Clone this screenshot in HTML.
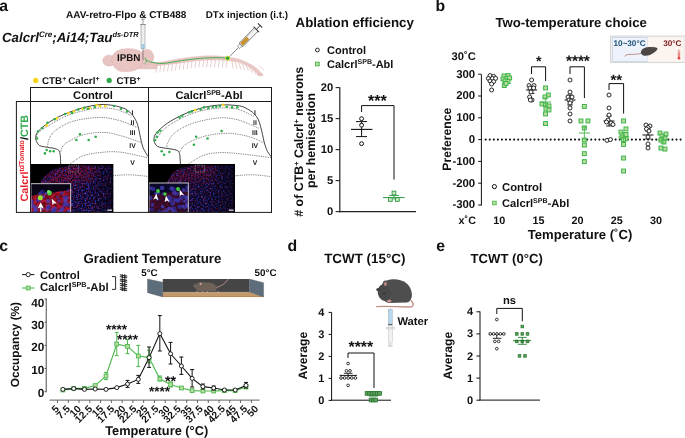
<!DOCTYPE html>
<html><head><meta charset="utf-8"><style>
html,body{margin:0;padding:0;background:#fff;width:685px;height:438px;overflow:hidden}
svg{display:block;will-change:transform}
text{font-family:"Liberation Sans",sans-serif;text-rendering:geometricPrecision}
</style></head><body>
<svg width="685" height="438" viewBox="0 0 685 438" font-family="Liberation Sans, sans-serif">
<rect width="685" height="438" fill="#fff"/>
<text x="-0.8" y="11.2" font-size="15.8" font-weight="bold" text-anchor="start" fill="#111" >a</text>
<text x="66" y="18" font-size="10" font-weight="bold" text-anchor="start" fill="#111" >AAV-retro-Flpo &amp; CTB488</text>
<text x="205.8" y="18" font-size="9.8" font-weight="bold" text-anchor="start" fill="#111" >DTx injection (i.t.)</text>
<text x="2" y="42" font-size="13.3" font-weight="bold" font-style="italic" fill="#111">Calcrl<tspan font-size="8" dy="-5">Cre</tspan><tspan dy="5">;Ai14;Tau</tspan><tspan font-size="7.4" dy="-5">ds-DTR</tspan></text>
<g>
<line x1="157.0" y1="65.2" x2="155.9" y2="72.6" stroke="#e0b8b6" stroke-width="0.7"/>
<line x1="160.9" y1="64.8" x2="159.8" y2="72.2" stroke="#e0b8b6" stroke-width="0.7"/>
<line x1="164.8" y1="64.3" x2="163.7" y2="71.7" stroke="#e0b8b6" stroke-width="0.7"/>
<line x1="168.7" y1="63.9" x2="167.6" y2="71.3" stroke="#e0b8b6" stroke-width="0.7"/>
<line x1="172.6" y1="63.5" x2="171.5" y2="70.9" stroke="#e0b8b6" stroke-width="0.7"/>
<line x1="176.5" y1="63.0" x2="175.4" y2="70.4" stroke="#e0b8b6" stroke-width="0.7"/>
<line x1="180.4" y1="62.4" x2="179.3" y2="69.8" stroke="#e0b8b6" stroke-width="0.7"/>
<line x1="184.3" y1="61.9" x2="183.2" y2="69.3" stroke="#e0b8b6" stroke-width="0.7"/>
<line x1="188.2" y1="61.4" x2="187.1" y2="68.8" stroke="#e0b8b6" stroke-width="0.7"/>
<line x1="192.1" y1="60.9" x2="191.0" y2="68.3" stroke="#e0b8b6" stroke-width="0.7"/>
<line x1="196.0" y1="60.4" x2="194.9" y2="67.8" stroke="#e0b8b6" stroke-width="0.7"/>
<line x1="199.9" y1="59.9" x2="198.8" y2="67.3" stroke="#e0b8b6" stroke-width="0.7"/>
<line x1="203.8" y1="59.9" x2="202.7" y2="67.3" stroke="#e0b8b6" stroke-width="0.7"/>
<line x1="207.7" y1="60.0" x2="206.6" y2="67.4" stroke="#e0b8b6" stroke-width="0.7"/>
<line x1="211.6" y1="60.0" x2="210.5" y2="67.4" stroke="#e0b8b6" stroke-width="0.7"/>
<line x1="215.5" y1="60.0" x2="214.4" y2="67.4" stroke="#e0b8b6" stroke-width="0.7"/>
<line x1="219.4" y1="60.0" x2="218.3" y2="67.4" stroke="#e0b8b6" stroke-width="0.7"/>
<line x1="223.3" y1="60.1" x2="222.2" y2="67.5" stroke="#e0b8b6" stroke-width="0.7"/>
<line x1="227.2" y1="60.1" x2="226.1" y2="67.5" stroke="#e0b8b6" stroke-width="0.7"/>
<line x1="232.0" y1="61.1" x2="233.0" y2="68.3" stroke="#e0b8b6" stroke-width="0.7"/>
<line x1="235.4" y1="61.9" x2="236.9" y2="68.8" stroke="#e0b8b6" stroke-width="0.7"/>
<line x1="238.8" y1="62.7" x2="240.8" y2="69.4" stroke="#e0b8b6" stroke-width="0.7"/>
<line x1="242.2" y1="63.5" x2="244.7" y2="70.0" stroke="#e0b8b6" stroke-width="0.7"/>
<line x1="245.6" y1="64.4" x2="248.6" y2="70.6" stroke="#e0b8b6" stroke-width="0.7"/>
<line x1="249.0" y1="66.8" x2="252.5" y2="72.7" stroke="#e0b8b6" stroke-width="0.7"/>
<line x1="252.4" y1="69.1" x2="256.4" y2="74.8" stroke="#e0b8b6" stroke-width="0.7"/>
<line x1="255.8" y1="71.5" x2="260.3" y2="76.9" stroke="#e0b8b6" stroke-width="0.7"/>
<line x1="259.2" y1="65.5" x2="264.2" y2="70.7" stroke="#e0b8b6" stroke-width="0.7"/>
<path d="M258 73 L262.5 74.2 L263.5 76 L257 75 Z" fill="#e0b8b6"/>
<path d="M150 63.5 C152.2 63.2 157.8 62.6 163.0 61.8 C168.2 60.9 175.4 59.3 181.5 58.4 C187.6 57.5 193.6 56.6 199.7 56.2 C205.8 55.8 213.3 55.8 218.0 56.0 C222.7 56.2 224.3 56.6 228.0 57.2 C231.7 57.8 235.6 58.0 240.0 59.6 C244.4 61.2 250.8 64.4 254.5 66.8 C258.2 69.2 261.2 73.0 262.5 74.2 L258 73.5 C255.9 72.0 250.4 67.0 245.4 64.8 C240.4 62.6 235.6 61.3 228.0 60.6 C220.4 59.9 209.0 59.8 199.7 60.4 C190.4 61.0 179.7 63.1 172.4 64.0 C165.1 64.9 160.6 65.2 156.0 65.8 C151.4 66.4 146.8 67.2 145.0 67.5 Z" fill="#e9c7c5" stroke="#dcb2b0" stroke-width="0.4"/>
<path d="M136 63.5 C142 62.5 150 62.3 157 63.5 L157 68.8 C150 68.6 142 69.2 136 68.4 Z" fill="#e8c4c2" stroke="#d6aaa7" stroke-width="0.45"/>
<ellipse cx="147" cy="57" rx="6.8" ry="7.6" fill="#e8c4c2" stroke="#d6aaa7" stroke-width="0.45"/>
<ellipse cx="109" cy="60.6" rx="6.2" ry="5.4" fill="#e8c4c2" stroke="#d6aaa7" stroke-width="0.45"/>
<path d="M112 58 C112.5 51.5 120 48.6 128 48.7 C135 48.8 140.5 50.5 142.5 53.5 C143.5 58 143 63 141 66.5 C137 70.5 130 72 122.5 71.6 C116.5 71 113 66.5 112 62 Z" fill="#e8c4c2" stroke="#d6aaa7" stroke-width="0.45"/>
</g>
<rect x="141" y="24.5" width="4" height="24" fill="#f0f0f0" stroke="#8a8a8a" stroke-width="0.55"/>
<line x1="141.3" y1="27.0" x2="142.6" y2="27.0" stroke="#aaa" stroke-width="0.3"/>
<line x1="141.3" y1="29.4" x2="142.6" y2="29.4" stroke="#aaa" stroke-width="0.3"/>
<line x1="141.3" y1="31.8" x2="142.6" y2="31.8" stroke="#aaa" stroke-width="0.3"/>
<line x1="141.3" y1="34.2" x2="142.6" y2="34.2" stroke="#aaa" stroke-width="0.3"/>
<line x1="141.3" y1="36.6" x2="142.6" y2="36.6" stroke="#aaa" stroke-width="0.3"/>
<line x1="141.3" y1="39.0" x2="142.6" y2="39.0" stroke="#aaa" stroke-width="0.3"/>
<line x1="141.3" y1="41.4" x2="142.6" y2="41.4" stroke="#aaa" stroke-width="0.3"/>
<rect x="141.3" y="44" width="3.4" height="4.4" fill="#a6cbe4"/>
<line x1="143" y1="19" x2="143" y2="24.5" stroke="#888" stroke-width="0.8"/>
<line x1="141" y1="19.2" x2="145" y2="19.2" stroke="#888" stroke-width="0.8"/>
<line x1="140" y1="24.5" x2="146" y2="24.5" stroke="#888" stroke-width="0.8"/>
<line x1="143" y1="48.5" x2="143" y2="60" stroke="#555" stroke-width="0.6"/>
<text x="117" y="61" font-size="9.8" font-weight="bold" text-anchor="start" fill="#111" >IPBN</text>
<path d="M145.5 59.8 C146.3 60.1 147.6 61.3 150.5 61.9 C153.4 62.5 157.8 63.6 163.0 63.4 C168.2 63.2 175.4 61.4 181.5 60.6 C187.6 59.8 193.6 58.9 199.7 58.4 C205.8 57.9 213.3 57.7 218.0 57.7 C222.7 57.7 226.3 58.1 228.0 58.2" fill="none" stroke="#3daa4a" stroke-width="0.95"/>
<path d="M145 57.5 L146.5 61.5 L145 63.5" fill="none" stroke="#3daa4a" stroke-width="0.8"/>
<g transform="translate(228,58.2) rotate(-45.5)">
<line x1="2" y1="0" x2="15.5" y2="0" stroke="#444" stroke-width="0.6"/>
<rect x="15" y="-1.6" width="3.8" height="3.2" fill="#f4f4f4" stroke="#555" stroke-width="0.5"/>
<rect x="18.6" y="-2.5" width="21.8" height="5" fill="#f6f6f6" stroke="#333" stroke-width="0.6"/>
<rect x="19.4" y="-1.9" width="9" height="3.8" fill="#c8922c"/>
<line x1="29.5" y1="-2.4" x2="29.5" y2="-0.8" stroke="#666" stroke-width="0.35"/>
<line x1="31.1" y1="-2.4" x2="31.1" y2="-0.8" stroke="#666" stroke-width="0.35"/>
<line x1="32.7" y1="-2.4" x2="32.7" y2="-0.8" stroke="#666" stroke-width="0.35"/>
<line x1="34.3" y1="-2.4" x2="34.3" y2="-0.8" stroke="#666" stroke-width="0.35"/>
<line x1="35.9" y1="-2.4" x2="35.9" y2="-0.8" stroke="#666" stroke-width="0.35"/>
<line x1="37.5" y1="-2.4" x2="37.5" y2="-0.8" stroke="#666" stroke-width="0.35"/>
<line x1="40.4" y1="-3.8" x2="40.4" y2="3.8" stroke="#333" stroke-width="1"/>
<line x1="40.4" y1="0" x2="45.8" y2="0" stroke="#333" stroke-width="0.9"/>
<line x1="45.8" y1="-3" x2="45.8" y2="3" stroke="#333" stroke-width="1.1"/>
</g>
<circle cx="227.6" cy="58.2" r="2.1" fill="#2a9a48" stroke="#d8ec30" stroke-width="0.9"/>
<circle cx="35.7" cy="80.4" r="2.6" fill="#f8d418"/>
<text x="42" y="84" font-size="9.8" font-weight="bold" fill="#111">CTB<tspan font-size="7" dy="-3.4">+</tspan><tspan dy="3.4" dx="-0.8"> Calcrl</tspan><tspan font-size="7" dy="-3.4">+</tspan></text>
<circle cx="109.2" cy="80.4" r="2.6" fill="#2fa84a"/>
<text x="116.4" y="84" font-size="9.8" font-weight="bold" fill="#111">CTB<tspan font-size="7" dy="-3.4">+</tspan></text>
<text x="93" y="99" font-size="11.2" font-weight="bold" text-anchor="middle" fill="#111" >Control</text>
<text x="209" y="99" font-size="11.2" font-weight="bold" text-anchor="middle" fill="#111">Calcrl<tspan font-size="7" dy="-4.5">SPB</tspan><tspan dy="4.5">-Abl</tspan></text>
<text transform="translate(28.2,201.5) rotate(-90)" font-size="10.8" font-weight="bold" fill="#e8212a">Calcrl<tspan font-size="7" dy="-3.8">tdTomato</tspan><tspan dy="3.8" fill="#111">/</tspan><tspan fill="#2fa84a">CTB</tspan></text>
<path d="M60.7 164 C60.6 162.1 60.5 155.1 59.8 152.6 C59.1 150.1 58.3 149.9 56.3 149.0 C54.2 148.1 50.3 147.9 47.5 147.3 C44.7 146.7 41.5 146.7 39.6 145.5 C37.7 144.3 36.7 142.1 36.1 140.3 C35.5 138.6 35.4 136.9 36.1 135.0 C36.8 133.1 38.0 131.3 40.5 129.0 C43.0 126.7 46.9 123.5 51.0 121.0 C55.1 118.5 59.7 116.2 65.0 114.0 C70.3 111.8 76.8 109.5 82.6 107.9 C88.4 106.3 94.9 105.0 100.0 104.6 C105.1 104.2 109.7 105.0 113.0 105.4 C116.3 105.8 117.9 106.5 120.0 107.1 C122.1 107.7 123.8 108.0 125.7 109.1 C127.6 110.2 129.9 112.2 131.4 113.7 C132.9 115.2 133.6 116.5 134.5 118.0 C135.4 119.5 136.3 121.2 137.0 123.0 C137.7 124.8 138.0 126.0 138.6 128.5 C139.2 131.0 139.8 134.7 140.5 137.8 C141.2 140.9 141.8 144.3 142.8 147.0 C143.8 149.7 145.4 152.2 146.3 153.8 C147.2 155.4 148.0 156.2 148.3 156.7" fill="none" stroke="#222" stroke-width="0.85"/>
<path d="M37 138.5 C37.1 137.6 36.1 135.0 37.9 133.0 C39.6 131.0 43.0 129.0 47.5 126.3 C52.0 123.6 59.1 119.2 65.0 116.6 C70.8 114.0 76.8 112.4 82.6 110.9 C88.4 109.5 94.6 108.2 100.0 107.9 C105.4 107.6 111.4 108.6 115.0 109.2 C118.6 109.8 119.6 110.7 121.7 111.4 C123.8 112.2 125.8 112.9 127.4 113.7 C129.0 114.5 130.7 115.6 131.4 116.0" fill="none" stroke="#222" stroke-width="0.7" stroke-dasharray="0.8,1.0"/>
<path d="M47.5 147 C47.8 145.6 47.8 141.4 49.3 138.5 C50.8 135.6 52.2 132.7 56.3 129.8 C60.4 126.9 66.5 123.0 73.8 121.0 C81.1 119.0 92.3 117.5 100.0 117.5 C107.7 117.5 113.8 119.0 120.0 120.7 C126.2 122.4 134.2 126.4 137.1 127.6" fill="none" stroke="#222" stroke-width="0.7" stroke-dasharray="0.8,1.0"/>
<path d="M60.7 152 C61.4 150.6 61.4 146.6 65.0 143.8 C68.7 141.0 76.2 136.9 82.6 135.0 C89.0 133.1 97.4 132.3 103.6 132.4 C109.8 132.5 113.8 133.8 120.0 135.5 C126.2 137.2 137.6 141.2 141.1 142.4" fill="none" stroke="#222" stroke-width="0.7" stroke-dasharray="0.8,1.0"/>
<path d="M70.3 164 C72.3 162.7 77.6 157.9 82.6 156.0 C87.5 154.1 93.8 153.2 100.0 152.6 C106.2 151.9 112.0 151.2 120.0 152.1 C128.1 153.0 143.6 156.9 148.3 157.8" fill="none" stroke="#222" stroke-width="0.7" stroke-dasharray="0.8,1.0"/>
<text x="132.5" y="114.8" font-size="6.8" font-weight="bold" text-anchor="middle" fill="#222" >I</text>
<text x="132.5" y="124.9" font-size="6.8" font-weight="bold" text-anchor="middle" fill="#222" >II</text>
<text x="132.5" y="135.3" font-size="6.8" font-weight="bold" text-anchor="middle" fill="#222" >III</text>
<text x="132.5" y="148.0" font-size="6.8" font-weight="bold" text-anchor="middle" fill="#222" >IV</text>
<text x="132.5" y="164.7" font-size="6.8" font-weight="bold" text-anchor="middle" fill="#222" >V</text>
<circle cx="46.6" cy="125.4" r="1.35" fill="#f5d51c"/>
<circle cx="57" cy="118.4" r="1.35" fill="#f5d51c"/>
<circle cx="68.5" cy="113.1" r="1.35" fill="#f5d51c"/>
<circle cx="73.8" cy="111.4" r="1.35" fill="#f5d51c"/>
<circle cx="82.6" cy="108.8" r="1.35" fill="#f5d51c"/>
<circle cx="89.6" cy="108" r="1.35" fill="#f5d51c"/>
<circle cx="96.6" cy="105" r="1.35" fill="#f5d51c"/>
<circle cx="100" cy="106.2" r="1.35" fill="#f5d51c"/>
<circle cx="105.3" cy="106" r="1.35" fill="#f5d51c"/>
<circle cx="37.9" cy="131.5" r="1.3" fill="#2fae4a"/>
<circle cx="37" cy="138.5" r="1.3" fill="#2fae4a"/>
<circle cx="42.3" cy="128" r="1.3" fill="#2fae4a"/>
<circle cx="47.5" cy="122.8" r="1.3" fill="#2fae4a"/>
<circle cx="54.5" cy="119.3" r="1.3" fill="#2fae4a"/>
<circle cx="65" cy="114" r="1.3" fill="#2fae4a"/>
<circle cx="72" cy="113" r="1.3" fill="#2fae4a"/>
<circle cx="78.2" cy="109.6" r="1.3" fill="#2fae4a"/>
<circle cx="84.3" cy="107.9" r="1.3" fill="#2fae4a"/>
<circle cx="87.8" cy="108.8" r="1.3" fill="#2fae4a"/>
<circle cx="94.8" cy="107" r="1.3" fill="#2fae4a"/>
<circle cx="114" cy="106" r="1.3" fill="#2fae4a"/>
<circle cx="121" cy="108.8" r="1.3" fill="#2fae4a"/>
<circle cx="127.2" cy="111.4" r="1.3" fill="#2fae4a"/>
<circle cx="80" cy="134.2" r="1.3" fill="#2fae4a"/>
<circle cx="76.4" cy="140" r="1.3" fill="#2fae4a"/>
<circle cx="88.7" cy="140" r="1.3" fill="#2fae4a"/>
<circle cx="95.7" cy="136.8" r="1.3" fill="#2fae4a"/>
<circle cx="44.9" cy="153.4" r="1.3" fill="#2fae4a"/>
<circle cx="46.6" cy="150" r="1.3" fill="#2fae4a"/>
<circle cx="50.1" cy="151.2" r="1.3" fill="#2fae4a"/>
<circle cx="53.7" cy="151.2" r="1.3" fill="#2fae4a"/>
<path d="M180.4 164 C180.2 162.2 180.2 155.7 179.5 153.4 C178.8 151.1 178.3 150.9 176.0 150.0 C173.7 149.1 168.6 148.8 165.5 148.2 C162.4 147.6 159.5 147.6 157.6 146.4 C155.7 145.2 154.5 143.1 154.1 141.2 C153.7 139.3 154.0 137.1 155.0 135.0 C156.0 132.9 157.7 131.2 160.3 128.9 C162.9 126.6 166.4 123.6 170.8 121.0 C175.2 118.4 181.0 115.4 186.5 113.1 C192.0 110.8 198.2 108.8 204.0 107.4 C209.8 106.0 216.4 105.2 221.6 104.9 C226.8 104.6 231.4 105.1 235.0 105.4 C238.6 105.7 240.3 105.8 243.0 106.8 C245.7 107.8 249.0 109.9 251.0 111.2 C253.0 112.5 253.8 113.5 255.0 114.8 C256.2 116.1 257.3 117.3 258.2 119.2 C259.1 121.1 259.8 123.8 260.5 126.3 C261.2 128.8 261.9 131.5 262.5 134.3 C263.1 137.1 263.6 140.1 264.4 143.0 C265.2 145.9 266.3 149.2 267.5 151.5 C268.7 153.8 270.8 156.1 271.5 157.0" fill="none" stroke="#222" stroke-width="0.85"/>
<path d="M155.9 139.4 C157.5 137.5 161.0 131.7 165.5 128.0 C170.0 124.3 177.2 120.3 183.0 117.5 C188.8 114.7 194.2 112.5 200.6 110.9 C207.0 109.3 215.9 108.2 221.6 107.9 C227.3 107.6 231.4 108.2 235.0 108.8 C238.6 109.3 239.8 109.9 243.0 111.2 C246.2 112.5 252.3 115.5 254.2 116.4" fill="none" stroke="#222" stroke-width="0.7" stroke-dasharray="0.8,1.0"/>
<path d="M167.3 147 C167.3 146.5 166.1 146.1 167.3 143.8 C168.5 141.5 170.2 136.7 174.3 133.3 C178.4 129.9 184.5 126.1 191.8 123.6 C199.1 121.0 210.8 118.7 218.0 118.0 C225.2 117.3 230.2 118.3 235.0 119.2 C239.8 120.1 243.0 121.7 247.0 123.2 C251.0 124.7 257.0 127.5 259.0 128.3" fill="none" stroke="#222" stroke-width="0.7" stroke-dasharray="0.8,1.0"/>
<path d="M179.5 152 C180.7 150.6 182.1 146.5 186.5 143.8 C190.9 141.1 198.8 137.7 205.8 135.9 C212.8 134.2 221.3 133.2 228.6 133.3 C235.9 133.5 243.8 135.2 249.6 136.8 C255.4 138.4 261.3 141.9 263.6 142.9" fill="none" stroke="#222" stroke-width="0.7" stroke-dasharray="0.8,1.0"/>
<path d="M188.3 164 C190.9 162.5 198.4 157.1 204.0 155.2 C209.6 153.3 214.9 152.8 221.6 152.6 C228.3 152.4 236.1 153.4 244.4 154.3 C252.7 155.2 267.0 157.2 271.5 157.8" fill="none" stroke="#222" stroke-width="0.7" stroke-dasharray="0.8,1.0"/>
<text x="254.9" y="114.8" font-size="6.8" font-weight="bold" text-anchor="middle" fill="#222" >I</text>
<text x="254.9" y="124.9" font-size="6.8" font-weight="bold" text-anchor="middle" fill="#222" >II</text>
<text x="254.9" y="135.3" font-size="6.8" font-weight="bold" text-anchor="middle" fill="#222" >III</text>
<text x="254.9" y="148.0" font-size="6.8" font-weight="bold" text-anchor="middle" fill="#222" >IV</text>
<text x="254.9" y="164.7" font-size="6.8" font-weight="bold" text-anchor="middle" fill="#222" >V</text>
<circle cx="195.3" cy="110.2" r="1.35" fill="#f5d51c"/>
<circle cx="223.3" cy="104.9" r="1.35" fill="#f5d51c"/>
<circle cx="155" cy="140.3" r="1.3" fill="#2fae4a"/>
<circle cx="156.8" cy="136.8" r="1.3" fill="#2fae4a"/>
<circle cx="157.6" cy="132.4" r="1.3" fill="#2fae4a"/>
<circle cx="160.3" cy="130.7" r="1.3" fill="#2fae4a"/>
<circle cx="179.5" cy="117.5" r="1.3" fill="#2fae4a"/>
<circle cx="182.2" cy="115.8" r="1.3" fill="#2fae4a"/>
<circle cx="189.2" cy="112.3" r="1.3" fill="#2fae4a"/>
<circle cx="191.8" cy="111.4" r="1.3" fill="#2fae4a"/>
<circle cx="200.6" cy="109.6" r="1.3" fill="#2fae4a"/>
<circle cx="204" cy="107.4" r="1.3" fill="#2fae4a"/>
<circle cx="208.4" cy="107.9" r="1.3" fill="#2fae4a"/>
<circle cx="212.8" cy="107" r="1.3" fill="#2fae4a"/>
<circle cx="216.3" cy="106.7" r="1.3" fill="#2fae4a"/>
<circle cx="219.8" cy="106.1" r="1.3" fill="#2fae4a"/>
<circle cx="226.8" cy="106.7" r="1.3" fill="#2fae4a"/>
<circle cx="232.1" cy="107.4" r="1.3" fill="#2fae4a"/>
<circle cx="237.3" cy="107.4" r="1.3" fill="#2fae4a"/>
<circle cx="196.2" cy="136.8" r="1.3" fill="#2fae4a"/>
<circle cx="207.6" cy="138.5" r="1.3" fill="#2fae4a"/>
<circle cx="221.6" cy="131" r="1.3" fill="#2fae4a"/>
<circle cx="193.9" cy="144.7" r="1.3" fill="#2fae4a"/>
<circle cx="161.7" cy="151.2" r="1.3" fill="#2fae4a"/>
<circle cx="164.1" cy="154.7" r="1.3" fill="#2fae4a"/>
<circle cx="169.4" cy="152" r="1.3" fill="#2fae4a"/>
<path d="M113.4 175.5 C116.2 175.4 124.2 174.7 130.0 174.8 C135.8 175.0 144.9 176.1 147.9 176.4" fill="none" stroke="#222" stroke-width="0.7" stroke-dasharray="0.8,1.0"/>
<path d="M235 175.8 C237.8 175.6 245.9 174.7 252.0 174.8 C258.1 174.9 268.2 176.3 271.5 176.6" fill="none" stroke="#222" stroke-width="0.7" stroke-dasharray="0.8,1.0"/>
<defs>
<filter id="mnoise" x="0" y="0" width="1" height="1" color-interpolation-filters="sRGB">
 <feTurbulence type="fractalNoise" baseFrequency="0.6" numOctaves="1" seed="3" result="t"/>
 <feColorMatrix in="t" type="matrix" values="2.0 0 1.0 0 -1.45  0 0 1.0 0 -0.46  0 0 3.0 0 -1.28  0 0 0 0 1"/>
 <feGaussianBlur stdDeviation="0.45"/>
</filter>
<filter id="mnoise2" x="0" y="0" width="1" height="1" color-interpolation-filters="sRGB">
 <feTurbulence type="fractalNoise" baseFrequency="0.6" numOctaves="1" seed="11" result="t"/>
 <feColorMatrix in="t" type="matrix" values="2.0 0 1.0 0 -1.5  0 0 1.0 0 -0.47  0 0 3.0 0 -1.31  0 0 0 0 1"/>
 <feGaussianBlur stdDeviation="0.45"/>
</filter>
<filter id="rnoise" x="0" y="0" width="1" height="1" color-interpolation-filters="sRGB">
 <feTurbulence type="fractalNoise" baseFrequency="0.7" numOctaves="1" seed="5" result="t"/>
 <feColorMatrix in="t" type="matrix" values="0 0 0 0 0.62  0 0 0 0 0.08  0 0 0 0 0.24  5.0 0 0 0 -2.0"/>
 <feGaussianBlur stdDeviation="0.3"/>
</filter>
<filter id="inoise" x="0" y="0" width="1" height="1" color-interpolation-filters="sRGB">
 <feTurbulence type="fractalNoise" baseFrequency="0.35" numOctaves="2" seed="8" result="t"/>
 <feColorMatrix in="t" type="matrix" values="0 0 0 0 0.72  0 0 0 0 0.08  0 0 0 0 0.18  4.0 0 0 0 -1.6"/>
</filter>
<filter id="bl1" x="-0.5" y="-0.5" width="2" height="2"><feGaussianBlur stdDeviation="0.6"/></filter>
<filter id="bl2" x="-0.3" y="-0.3" width="1.6" height="1.6"><feGaussianBlur stdDeviation="1.2"/></filter>
<filter id="bl4" x="-0.5" y="-0.5" width="2" height="2"><feGaussianBlur stdDeviation="4"/></filter>
<linearGradient id="fadeR" x1="0" y1="0" x2="1" y2="0"><stop offset="0" stop-color="#000" stop-opacity="0"/><stop offset="0.7" stop-color="#000" stop-opacity="0.1"/><stop offset="1" stop-color="#000" stop-opacity="0.5"/></linearGradient>
</defs>
<g><clipPath id="cp1"><rect x="30.6" y="164" width="82.80000000000001" height="48.400000000000006"/></clipPath>
<mask id="rm1" maskUnits="userSpaceOnUse" x="20.6" y="154" width="102.80000000000001" height="68.4"><path d="M43.848000000000006 200.3 C48.816 180.94 63.720000000000006 171.744 95.18400000000003 170.776" fill="none" stroke="#fff" stroke-width="18" filter="url(#bl4)"/></mask>
<g clip-path="url(#cp1)">
<rect x="30.6" y="164" width="82.80000000000001" height="48.400000000000006" fill="#0e0822"/>
<rect x="30.6" y="164" width="82.80000000000001" height="48.400000000000006" filter="url(#mnoise)" style="mix-blend-mode:screen"/>
<g mask="url(#rm1)" opacity="1.0"><rect x="30.6" y="164" width="82.80000000000001" height="48.400000000000006" filter="url(#rnoise)"/></g>
<rect x="30.6" y="164" width="82.80000000000001" height="48.400000000000006" fill="url(#fadeR)"/>
<rect x="30.6" y="164" width="82.80000000000001" height="48.400000000000006" fill="#05020c" opacity="0.22"/>
<path d="M30.6 164 L113.4 164 L113.4 165.3 L95 165.2 L83.2 164.9 L72 165.5 L60.9 166.8 L53 169.5 L47.7 173.3 L43.5 177 L41.1 180 L39.5 184 L30.6 200.3 Z" fill="#000" stroke="#000" stroke-width="0.6" stroke-linejoin="round"/>
<rect x="111.4" y="164" width="2" height="48.400000000000006" fill="#000" opacity="0.6"/>
</g>
<clipPath id="ci1"><rect x="30.6" y="183.4" width="40.4" height="29.0"/></clipPath>
<g clip-path="url(#ci1)">
<rect x="30.6" y="183.4" width="40.4" height="29.0" fill="#0a0618"/>
<clipPath id="cr1"><path d="M30.6 196.45000000000002 C42.72 192.1 54.84 193.55 71.0 189.20000000000002 L71.0 212.4 L30.6 212.4 Z"/></clipPath>
<g opacity="1.0" filter="url(#bl1)"><g clip-path="url(#cr1)"><rect x="30.6" y="183.4" width="40.4" height="29.0" fill="#6a0c1c"/><rect x="30.6" y="183.4" width="40.4" height="29.0" filter="url(#inoise)"/></g></g>
<circle cx="36.0" cy="209.9" r="1.9" fill="#3a36b0" opacity="0.7" filter="url(#bl1)"/>
<circle cx="35.4" cy="207.6" r="2.3" fill="#4a44c8" opacity="0.7" filter="url(#bl1)"/>
<circle cx="45.9" cy="193.2" r="1.5" fill="#4a44c8" opacity="0.7" filter="url(#bl1)"/>
<circle cx="66.7" cy="197.9" r="2.3" fill="#3a36b0" opacity="0.7" filter="url(#bl1)"/>
<circle cx="48.6" cy="206.6" r="2.3" fill="#4640c0" opacity="0.7" filter="url(#bl1)"/>
<circle cx="68.8" cy="211.3" r="1.5" fill="#3a36b0" opacity="0.7" filter="url(#bl1)"/>
<circle cx="31.6" cy="201.9" r="2.3" fill="#4a44c8" opacity="0.7" filter="url(#bl1)"/>
<circle cx="39.4" cy="198.8" r="2.3" fill="#3a36b0" opacity="0.7" filter="url(#bl1)"/>
<circle cx="39.6" cy="199.2" r="2.3" fill="#4a44c8" opacity="0.7" filter="url(#bl1)"/>
<circle cx="40.0" cy="193.8" r="1.9" fill="#4640c0" opacity="0.7" filter="url(#bl1)"/>
<circle cx="69.1" cy="211.9" r="2.3" fill="#4a44c8" opacity="0.7" filter="url(#bl1)"/>
<circle cx="67.9" cy="190.4" r="1.5" fill="#2e2c98" opacity="0.7" filter="url(#bl1)"/>
<circle cx="60.6" cy="211.1" r="2.3" fill="#4a44c8" opacity="0.7" filter="url(#bl1)"/>
<circle cx="64.1" cy="205.2" r="1.9" fill="#2e2c98" opacity="0.7" filter="url(#bl1)"/>
<circle cx="54.3" cy="210.8" r="2.3" fill="#4a44c8" opacity="0.7" filter="url(#bl1)"/>
<circle cx="65.1" cy="200.3" r="1.9" fill="#4a44c8" opacity="0.7" filter="url(#bl1)"/>
<circle cx="57.5" cy="197.3" r="1.5" fill="#2e2c98" opacity="0.7" filter="url(#bl1)"/>
<circle cx="48.3" cy="201.0" r="2.3" fill="#4640c0" opacity="0.7" filter="url(#bl1)"/>
<circle cx="64.5" cy="197.4" r="1.9" fill="#3a36b0" opacity="0.7" filter="url(#bl1)"/>
<circle cx="32.4" cy="206.1" r="2.3" fill="#4a44c8" opacity="0.7" filter="url(#bl1)"/>
<circle cx="37.5" cy="200.9" r="1.5" fill="#3a36b0" opacity="0.7" filter="url(#bl1)"/>
<circle cx="52.4" cy="210.2" r="1.9" fill="#4640c0" opacity="0.7" filter="url(#bl1)"/>
<circle cx="51.4" cy="212.6" r="1.9" fill="#2e2c98" opacity="0.7" filter="url(#bl1)"/>
<circle cx="67.4" cy="205.0" r="1.9" fill="#3a36b0" opacity="0.7" filter="url(#bl1)"/>
<circle cx="62.3" cy="209.2" r="2.3" fill="#4640c0" opacity="0.7" filter="url(#bl1)"/>
<circle cx="62.0" cy="193.1" r="1.9" fill="#3a36b0" opacity="0.7" filter="url(#bl1)"/>
<circle cx="65.7" cy="202.6" r="2.3" fill="#4640c0" opacity="0.7" filter="url(#bl1)"/>
<circle cx="47.3" cy="209.0" r="1.9" fill="#4a44c8" opacity="0.7" filter="url(#bl1)"/>
<circle cx="30.7" cy="201.8" r="1.9" fill="#2e2c98" opacity="0.7" filter="url(#bl1)"/>
<circle cx="54.8" cy="208.7" r="2.3" fill="#4640c0" opacity="0.7" filter="url(#bl1)"/>
<circle cx="54.2" cy="210.2" r="1.5" fill="#2e2c98" opacity="0.7" filter="url(#bl1)"/>
<circle cx="64.6" cy="205.3" r="1.5" fill="#3a36b0" opacity="0.7" filter="url(#bl1)"/>
<circle cx="48.9" cy="207.4" r="1.5" fill="#2e2c98" opacity="0.7" filter="url(#bl1)"/>
<circle cx="41.5" cy="208.6" r="1.9" fill="#4640c0" opacity="0.7" filter="url(#bl1)"/>
<circle cx="42.3" cy="192.1" r="2.3" fill="#2e2c98" opacity="0.7" filter="url(#bl1)"/>
<circle cx="69.1" cy="204.9" r="1.9" fill="#2e2c98" opacity="0.7" filter="url(#bl1)"/>
<circle cx="59.0" cy="200.7" r="1.5" fill="#3a36b0" opacity="0.7" filter="url(#bl1)"/>
<circle cx="43.2" cy="196.7" r="1.9" fill="#4640c0" opacity="0.7" filter="url(#bl1)"/>
<circle cx="35.0" cy="211.2" r="2.3" fill="#4640c0" opacity="0.7" filter="url(#bl1)"/>
</g>
<rect x="30.900000000000002" y="183.70000000000002" width="39.8" height="29.0" fill="none" stroke="#d8d8d8" stroke-width="0.9"/>
</g>
<rect x="107.4" y="209.6" width="4.6" height="1.1" fill="#fff"/>
<g><clipPath id="cp2"><rect x="148.6" y="163.9" width="86.4" height="48.5"/></clipPath>
<mask id="rm2" maskUnits="userSpaceOnUse" x="138.6" y="153.9" width="106.4" height="68.5"><path d="M162.424 200.275 C167.608 180.875 183.16 171.66 215.99200000000002 170.69" fill="none" stroke="#fff" stroke-width="18" filter="url(#bl4)"/></mask>
<g clip-path="url(#cp2)">
<rect x="148.6" y="163.9" width="86.4" height="48.5" fill="#0e0822"/>
<rect x="148.6" y="163.9" width="86.4" height="48.5" filter="url(#mnoise2)" style="mix-blend-mode:screen"/>
<g mask="url(#rm2)" opacity="0.8"><rect x="148.6" y="163.9" width="86.4" height="48.5" filter="url(#rnoise)"/></g>
<rect x="148.6" y="163.9" width="86.4" height="48.5" fill="url(#fadeR)"/>
<rect x="148.6" y="163.9" width="86.4" height="48.5" fill="#05020c" opacity="0.3"/>
<path d="M148.6 163.9 L235 163.9 L235 165.20000000000002 L215 165.1 L200 165 L190.3 165.5 L180.9 167.5 L175.5 170 L172.8 172.2 L169.5 177.4 L166.1 182.8 L165 184 L148.6 200.275 Z" fill="#000" stroke="#000" stroke-width="0.6" stroke-linejoin="round"/>
<rect x="233" y="163.9" width="2" height="48.5" fill="#000" opacity="0.6"/>
</g>
<clipPath id="ci2"><rect x="148.6" y="182.7" width="40.0" height="29.700000000000017"/></clipPath>
<g clip-path="url(#ci2)">
<rect x="148.6" y="182.7" width="40.0" height="29.700000000000017" fill="#0c0a2a"/>
<clipPath id="cr2"><path d="M148.6 196.065 C160.6 191.60999999999999 172.6 193.095 188.6 188.64 L188.6 212.4 L148.6 212.4 Z"/></clipPath>
<g opacity="0.35" filter="url(#bl1)"><g clip-path="url(#cr2)"><rect x="148.6" y="182.7" width="40.0" height="29.700000000000017" fill="#6a0c1c"/><rect x="148.6" y="182.7" width="40.0" height="29.700000000000017" filter="url(#inoise)"/></g></g>
<circle cx="186.8" cy="212.5" r="1.5" fill="#3a36b0" opacity="0.7" filter="url(#bl1)"/>
<circle cx="152.0" cy="209.5" r="1.9" fill="#2e2c98" opacity="0.7" filter="url(#bl1)"/>
<circle cx="172.8" cy="203.4" r="1.9" fill="#4640c0" opacity="0.7" filter="url(#bl1)"/>
<circle cx="174.1" cy="208.6" r="2.3" fill="#2e2c98" opacity="0.7" filter="url(#bl1)"/>
<circle cx="186.0" cy="200.6" r="1.5" fill="#3a36b0" opacity="0.7" filter="url(#bl1)"/>
<circle cx="163.2" cy="212.1" r="1.9" fill="#4a44c8" opacity="0.7" filter="url(#bl1)"/>
<circle cx="184.3" cy="201.2" r="1.5" fill="#4640c0" opacity="0.7" filter="url(#bl1)"/>
<circle cx="157.8" cy="191.9" r="1.5" fill="#4640c0" opacity="0.7" filter="url(#bl1)"/>
<circle cx="169.0" cy="196.8" r="1.9" fill="#4640c0" opacity="0.7" filter="url(#bl1)"/>
<circle cx="180.5" cy="206.8" r="2.3" fill="#2e2c98" opacity="0.7" filter="url(#bl1)"/>
<circle cx="162.8" cy="213.4" r="1.5" fill="#4a44c8" opacity="0.7" filter="url(#bl1)"/>
<circle cx="186.8" cy="197.8" r="2.3" fill="#4a44c8" opacity="0.7" filter="url(#bl1)"/>
<circle cx="169.8" cy="200.3" r="2.3" fill="#4a44c8" opacity="0.7" filter="url(#bl1)"/>
<circle cx="169.2" cy="208.4" r="1.9" fill="#4a44c8" opacity="0.7" filter="url(#bl1)"/>
<circle cx="162.6" cy="206.6" r="1.9" fill="#4a44c8" opacity="0.7" filter="url(#bl1)"/>
<circle cx="175.0" cy="212.3" r="2.3" fill="#4640c0" opacity="0.7" filter="url(#bl1)"/>
<circle cx="159.3" cy="211.5" r="1.9" fill="#2e2c98" opacity="0.7" filter="url(#bl1)"/>
<circle cx="186.9" cy="206.0" r="1.9" fill="#4a44c8" opacity="0.7" filter="url(#bl1)"/>
<circle cx="177.8" cy="200.2" r="2.3" fill="#2e2c98" opacity="0.7" filter="url(#bl1)"/>
<circle cx="173.5" cy="189.2" r="2.3" fill="#2e2c98" opacity="0.7" filter="url(#bl1)"/>
<circle cx="148.9" cy="208.9" r="1.5" fill="#3a36b0" opacity="0.7" filter="url(#bl1)"/>
<circle cx="171.6" cy="188.5" r="2.3" fill="#4640c0" opacity="0.7" filter="url(#bl1)"/>
<circle cx="183.6" cy="190.0" r="1.9" fill="#4640c0" opacity="0.7" filter="url(#bl1)"/>
<circle cx="158.4" cy="192.8" r="1.9" fill="#3a36b0" opacity="0.7" filter="url(#bl1)"/>
<circle cx="184.5" cy="207.5" r="1.9" fill="#3a36b0" opacity="0.7" filter="url(#bl1)"/>
<circle cx="163.0" cy="193.8" r="1.5" fill="#3a36b0" opacity="0.7" filter="url(#bl1)"/>
<circle cx="153.2" cy="189.0" r="2.3" fill="#3a36b0" opacity="0.7" filter="url(#bl1)"/>
<circle cx="185.3" cy="197.1" r="1.5" fill="#4640c0" opacity="0.7" filter="url(#bl1)"/>
<circle cx="178.0" cy="201.1" r="1.9" fill="#3a36b0" opacity="0.7" filter="url(#bl1)"/>
<circle cx="172.2" cy="208.4" r="1.5" fill="#4640c0" opacity="0.7" filter="url(#bl1)"/>
<circle cx="187.4" cy="187.3" r="1.9" fill="#3a36b0" opacity="0.7" filter="url(#bl1)"/>
<circle cx="162.1" cy="188.0" r="2.3" fill="#4a44c8" opacity="0.7" filter="url(#bl1)"/>
<circle cx="179.2" cy="206.9" r="1.9" fill="#2e2c98" opacity="0.7" filter="url(#bl1)"/>
<circle cx="183.1" cy="206.0" r="1.5" fill="#4a44c8" opacity="0.7" filter="url(#bl1)"/>
<circle cx="152.3" cy="205.5" r="1.5" fill="#3a36b0" opacity="0.7" filter="url(#bl1)"/>
<circle cx="166.5" cy="210.5" r="2.3" fill="#4640c0" opacity="0.7" filter="url(#bl1)"/>
<circle cx="172.0" cy="197.7" r="1.5" fill="#2e2c98" opacity="0.7" filter="url(#bl1)"/>
<circle cx="183.6" cy="196.3" r="2.3" fill="#2e2c98" opacity="0.7" filter="url(#bl1)"/>
<circle cx="187.4" cy="204.6" r="2.3" fill="#4640c0" opacity="0.7" filter="url(#bl1)"/>
<circle cx="150.9" cy="188.1" r="1.5" fill="#4640c0" opacity="0.7" filter="url(#bl1)"/>
<circle cx="152.4" cy="204.1" r="1.5" fill="#3a36b0" opacity="0.7" filter="url(#bl1)"/>
<circle cx="157.9" cy="199.0" r="1.5" fill="#2e2c98" opacity="0.7" filter="url(#bl1)"/>
<circle cx="172.2" cy="203.8" r="1.9" fill="#2e2c98" opacity="0.7" filter="url(#bl1)"/>
<circle cx="176.0" cy="194.6" r="1.5" fill="#3a36b0" opacity="0.7" filter="url(#bl1)"/>
<circle cx="150.0" cy="198.1" r="2.3" fill="#3a36b0" opacity="0.7" filter="url(#bl1)"/>
<circle cx="177.6" cy="193.6" r="1.5" fill="#3a36b0" opacity="0.7" filter="url(#bl1)"/>
<circle cx="155.9" cy="193.3" r="1.5" fill="#4640c0" opacity="0.7" filter="url(#bl1)"/>
<circle cx="169.4" cy="199.6" r="2.3" fill="#2e2c98" opacity="0.7" filter="url(#bl1)"/>
<circle cx="174.3" cy="192.8" r="2.3" fill="#4640c0" opacity="0.7" filter="url(#bl1)"/>
<circle cx="180.8" cy="198.5" r="2.3" fill="#3a36b0" opacity="0.7" filter="url(#bl1)"/>
<circle cx="172.3" cy="210.7" r="1.5" fill="#4640c0" opacity="0.7" filter="url(#bl1)"/>
<circle cx="175.1" cy="200.0" r="2.3" fill="#3a36b0" opacity="0.7" filter="url(#bl1)"/>
<circle cx="187.0" cy="190.3" r="1.9" fill="#2e2c98" opacity="0.7" filter="url(#bl1)"/>
<circle cx="176.2" cy="212.1" r="1.5" fill="#2e2c98" opacity="0.7" filter="url(#bl1)"/>
</g>
<rect x="148.9" y="183.0" width="39.4" height="29.700000000000017" fill="none" stroke="#d8d8d8" stroke-width="0.9"/>
</g>
<rect x="229" y="209.6" width="4.6" height="1.1" fill="#fff"/>
<g filter="url(#bl1)"><circle cx="49.5" cy="193" r="2.4" fill="#40d040"/><circle cx="48.5" cy="191.5" r="1.5" fill="#7af07a"/>
<circle cx="40.3" cy="197.8" r="2.5" fill="#9ae030"/></g>
<path d="M40.7 202.3 L37.6 208.6 L40.7 207.2 L43.8 208.6 Z" fill="#fff"/><line x1="40.7" y1="207.2" x2="40.7" y2="212.2" stroke="#e4e4e4" stroke-width="1.3"/>
<path d="M51.6 198.4 L52.6 205.2 L54 203.2 L57 203.8 Z" fill="#fff"/>
<g filter="url(#bl1)"><circle cx="158" cy="191" r="1.9" fill="#40d040"/><circle cx="165" cy="194" r="1.7" fill="#40d040"/><circle cx="178" cy="189" r="1.9" fill="#40d040"/></g>
<path d="M156.4 193.4 L153.3 199.6 L155.8 198.6 L158.4 200.6 Z" fill="#fff"/>
<path d="M166 195.6 L164.6 202 L167 200.6 L169.8 202.2 Z" fill="#fff"/>
<path d="M179.6 189.4 L179.8 196.4 L181.4 194.4 L184.4 195.4 Z" fill="#fff"/>
<line x1="30" y1="87.5" x2="272" y2="87.5" stroke="#1a1a1a" stroke-width="1.0" />
<line x1="16" y1="101.5" x2="272" y2="101.5" stroke="#1a1a1a" stroke-width="1.0" />
<line x1="16" y1="212.4" x2="272" y2="212.4" stroke="#1a1a1a" stroke-width="1.0" />
<line x1="16.4" y1="101" x2="16.4" y2="212.9" stroke="#1a1a1a" stroke-width="1.0" />
<line x1="30.5" y1="87" x2="30.5" y2="212.9" stroke="#1a1a1a" stroke-width="1.0" />
<line x1="148.5" y1="87" x2="148.5" y2="212.9" stroke="#1a1a1a" stroke-width="1.0" />
<line x1="271.5" y1="87" x2="271.5" y2="212.9" stroke="#1a1a1a" stroke-width="1.0" />
<rect x="68.9" y="165.2" width="9.4" height="6.8" fill="none" stroke="#d8d8d8" stroke-width="0.55" stroke-dasharray="0.9,0.9"/>
<rect x="195" y="165.2" width="9.4" height="6.8" fill="none" stroke="#d8d8d8" stroke-width="0.55" stroke-dasharray="0.9,0.9"/>
<text x="295.6" y="27" font-size="13.3" font-weight="bold" text-anchor="start" fill="#111" >Ablation efficiency</text>
<circle cx="317.4" cy="50.0" r="1.9" fill="#fff" stroke="#111" stroke-width="0.9"/>
<text x="327" y="54" font-size="11" font-weight="bold" text-anchor="start" fill="#111" >Control</text>
<rect x="315.6" y="62.2" width="3.6" height="3.6" fill="#bcdca4" stroke="#3cb043" stroke-width="0.9"/>
<text x="327" y="68" font-size="11" font-weight="bold" fill="#111">Calcrl<tspan font-size="7" dy="-4.3">SPB</tspan><tspan dy="4.3">-Abl</tspan></text>
<line x1="339.8" y1="87.2" x2="339.8" y2="212.2" stroke="#222" stroke-width="1.2" />
<line x1="339.2" y1="211.6" x2="416" y2="211.6" stroke="#222" stroke-width="1.2" />
<line x1="335.6" y1="87.6" x2="339.8" y2="87.6" stroke="#222" stroke-width="1.1" />
<text x="333.2" y="90.6" font-size="11.2" font-weight="bold" text-anchor="end" fill="#111" >20</text>
<line x1="335.6" y1="118.6" x2="339.8" y2="118.6" stroke="#222" stroke-width="1.1" />
<text x="333.2" y="121.6" font-size="11.2" font-weight="bold" text-anchor="end" fill="#111" >15</text>
<line x1="335.6" y1="149.6" x2="339.8" y2="149.6" stroke="#222" stroke-width="1.1" />
<text x="333.2" y="152.6" font-size="11.2" font-weight="bold" text-anchor="end" fill="#111" >10</text>
<line x1="335.6" y1="180.6" x2="339.8" y2="180.6" stroke="#222" stroke-width="1.1" />
<text x="333.2" y="183.6" font-size="11.2" font-weight="bold" text-anchor="end" fill="#111" >5</text>
<line x1="335.6" y1="211.6" x2="339.8" y2="211.6" stroke="#222" stroke-width="1.1" />
<text x="333.2" y="214.6" font-size="11.2" font-weight="bold" text-anchor="end" fill="#111" >0</text>
<text transform="translate(303,141.8) rotate(-90)" font-size="12.4" font-weight="bold" text-anchor="middle" fill="#111"># of CTB<tspan font-size="7.5" dy="-4.5">+</tspan><tspan dy="4.5"> Calcrl</tspan><tspan font-size="7.5" dy="-4.5">+</tspan><tspan dy="4.5"> neurons</tspan></text>
<text transform="translate(314.6,140.5) rotate(-90)" font-size="12.4" font-weight="bold" text-anchor="middle" fill="#111" >per hemisection</text>
<line x1="351" y1="129.4" x2="372.4" y2="129.4" stroke="#111" stroke-width="1.1" />
<line x1="361.6" y1="121.6" x2="361.6" y2="136.6" stroke="#111" stroke-width="1" />
<line x1="356" y1="121.6" x2="367" y2="121.6" stroke="#111" stroke-width="1" />
<line x1="356" y1="136.6" x2="367" y2="136.6" stroke="#111" stroke-width="1" />
<circle cx="361.6" cy="118.7" r="1.95" fill="#fff" stroke="#111" stroke-width="1.0"/>
<circle cx="361.6" cy="125.2" r="1.95" fill="#fff" stroke="#111" stroke-width="1.0"/>
<circle cx="361.6" cy="143.7" r="1.95" fill="#fff" stroke="#111" stroke-width="1.0"/>
<rect x="392.1" y="191.2" width="3.7" height="3.7" fill="#d4ecc8" stroke="#2e9a44" stroke-width="0.95"/>
<rect x="388.5" y="197.6" width="3.7" height="3.7" fill="#d4ecc8" stroke="#2e9a44" stroke-width="0.95"/>
<rect x="395.5" y="197.6" width="3.7" height="3.7" fill="#d4ecc8" stroke="#2e9a44" stroke-width="0.95"/>
<line x1="383" y1="197.6" x2="404.6" y2="197.6" stroke="#2e9a44" stroke-width="1" />
<line x1="394" y1="195.5" x2="394" y2="199.8" stroke="#2e9a44" stroke-width="1" />
<line x1="389" y1="195.5" x2="399" y2="195.5" stroke="#2e9a44" stroke-width="0.9" />
<path d="M361.6 112 L361.6 105.6 L394 105.6 L394 179.6" fill="none" stroke="#111" stroke-width="1"/>
<text x="377.4" y="106.0" font-size="16.1" font-weight="bold" text-anchor="middle" fill="#111">***</text>
<text x="435.6" y="11.3" font-size="15.8" font-weight="bold" text-anchor="start" fill="#111" >b</text>
<text x="495.4" y="27.2" font-size="13.2" font-weight="bold" text-anchor="start" fill="#111" >Two-temperature choice</text>
<text x="451.6" y="60" font-size="11.2" font-weight="bold" text-anchor="start" fill="#111" >30˚C</text>
<rect x="610.3" y="36" width="75" height="26.7" fill="#f0f0f0" stroke="#c8c8c8" stroke-width="0.7"/>
<rect x="612.3" y="37.6" width="35.2" height="23.8" fill="#eef2fa" stroke="#b8c8e0" stroke-width="0.6"/>
<rect x="647.5" y="37.6" width="35.5" height="23.8" fill="#fcf4ef"/>
<text x="613.4" y="45.7" font-size="8.2" font-weight="bold" text-anchor="start" fill="#1a5078" >10~30°C</text>
<text x="681.5" y="45.7" font-size="8.2" font-weight="bold" text-anchor="end" fill="#7a1818" >30°C</text>
<path d="M624.6 56.4 C626.5 54 629 54.6 632 54.4 C636 54.2 639 54.2 642 52.8" fill="none" stroke="#b47a72" stroke-width="0.8"/>
<path d="M641 53.5 C640.5 49.5 644 47.3 649 47 C653 46.8 656 47 657.6 48.2 C657.4 50 655.5 52 652.5 53.5 C649 56 643 57 641 53.5 Z" fill="#4c4644"/>
<ellipse cx="652.6" cy="47.6" rx="1.3" ry="0.9" fill="#6a5a5a"/>
<rect x="678.2" y="50" width="1.6" height="7.4" rx="0.8" fill="#f4d0d0" stroke="#c05050" stroke-width="0.35"/><rect x="678.6" y="52.5" width="0.8" height="5" fill="#e04848"/><circle cx="679" cy="58.2" r="1.35" fill="#e04848"/>
<line x1="481.4" y1="74.4" x2="481.4" y2="205.6" stroke="#111" stroke-width="1" />
<line x1="478.2" y1="74.19999999999999" x2="481.4" y2="74.19999999999999" stroke="#111" stroke-width="1" />
<text x="475.2" y="77.49999999999999" font-size="11.4" font-weight="bold" text-anchor="end" fill="#111" >300</text>
<line x1="478.2" y1="96.0" x2="481.4" y2="96.0" stroke="#111" stroke-width="1" />
<text x="475.2" y="99.3" font-size="11.4" font-weight="bold" text-anchor="end" fill="#111" >200</text>
<line x1="478.2" y1="117.8" x2="481.4" y2="117.8" stroke="#111" stroke-width="1" />
<text x="475.2" y="121.1" font-size="11.4" font-weight="bold" text-anchor="end" fill="#111" >100</text>
<line x1="478.2" y1="139.6" x2="481.4" y2="139.6" stroke="#111" stroke-width="1" />
<text x="475.2" y="142.9" font-size="11.4" font-weight="bold" text-anchor="end" fill="#111" >0</text>
<line x1="478.2" y1="161.4" x2="481.4" y2="161.4" stroke="#111" stroke-width="1" />
<text x="475.2" y="164.70000000000002" font-size="11.4" font-weight="bold" text-anchor="end" fill="#111" >-100</text>
<line x1="478.2" y1="183.2" x2="481.4" y2="183.2" stroke="#111" stroke-width="1" />
<text x="475.2" y="186.5" font-size="11.4" font-weight="bold" text-anchor="end" fill="#111" >-200</text>
<line x1="478.2" y1="205.0" x2="481.4" y2="205.0" stroke="#111" stroke-width="1" />
<text x="475.2" y="208.3" font-size="11.4" font-weight="bold" text-anchor="end" fill="#111" >-300</text>
<line x1="485.7" y1="139.6" x2="682" y2="139.6" stroke="#111" stroke-width="2.1" stroke-linecap="round" stroke-dasharray="0.01,4.05"/>
<text transform="translate(450.6,139.2) rotate(-90)" font-size="12.2" font-weight="bold" text-anchor="middle" fill="#111" >Preference</text>
<text x="458.6" y="224.4" font-size="10.8" font-weight="bold" text-anchor="start" fill="#111" >x˚C</text>
<text x="499.2" y="224.4" font-size="10.8" font-weight="bold" text-anchor="middle" fill="#111" >10</text>
<text x="538.4" y="224.4" font-size="10.8" font-weight="bold" text-anchor="middle" fill="#111" >15</text>
<text x="577.6" y="224.4" font-size="10.8" font-weight="bold" text-anchor="middle" fill="#111" >20</text>
<text x="616.8" y="224.4" font-size="10.8" font-weight="bold" text-anchor="middle" fill="#111" >25</text>
<text x="656.0" y="224.4" font-size="10.8" font-weight="bold" text-anchor="middle" fill="#111" >30</text>
<text x="580" y="239.2" font-size="13.1" font-weight="bold" text-anchor="middle" fill="#111" >Temperature (˚C)</text>
<circle cx="494.4" cy="186.6" r="2.1" fill="#fff" stroke="#111" stroke-width="1.0"/>
<text x="502" y="191" font-size="11.3" font-weight="bold" text-anchor="start" fill="#111" >Control</text>
<rect x="492.6" y="201.2" width="3.6" height="3.6" fill="#bcdca4" stroke="#4cb84c" stroke-width="0.9"/>
<text x="502" y="207" font-size="11.2" font-weight="bold" fill="#111">Calcrl<tspan font-size="7" dy="-4.3">SPB</tspan><tspan dy="4.3">-Abl</tspan></text>
<circle cx="490.0" cy="75.6" r="2.0" fill="#fff" stroke="#111" stroke-width="0.9"/>
<circle cx="493.6" cy="76.4" r="2.0" fill="#fff" stroke="#111" stroke-width="0.9"/>
<circle cx="488.4" cy="78.4" r="2.0" fill="#fff" stroke="#111" stroke-width="0.9"/>
<circle cx="492.4" cy="78.4" r="2.0" fill="#fff" stroke="#111" stroke-width="0.9"/>
<circle cx="495.6" cy="78.4" r="2.0" fill="#fff" stroke="#111" stroke-width="0.9"/>
<circle cx="490.0" cy="81.0" r="2.0" fill="#fff" stroke="#111" stroke-width="0.9"/>
<circle cx="493.6" cy="81.6" r="2.0" fill="#fff" stroke="#111" stroke-width="0.9"/>
<circle cx="491.6" cy="84.0" r="2.0" fill="#fff" stroke="#111" stroke-width="0.9"/>
<circle cx="491.6" cy="90.0" r="2.0" fill="#fff" stroke="#111" stroke-width="0.9"/>
<line x1="526.1" y1="90" x2="537.1" y2="90" stroke="#111" stroke-width="1" />
<line x1="531.6" y1="86.5" x2="531.6" y2="93.5" stroke="#111" stroke-width="0.9" />
<line x1="528.8000000000001" y1="86.5" x2="534.4" y2="86.5" stroke="#111" stroke-width="0.9" />
<line x1="528.8000000000001" y1="93.5" x2="534.4" y2="93.5" stroke="#111" stroke-width="0.9" />
<circle cx="531.6" cy="80.0" r="2.0" fill="#fff" stroke="#111" stroke-width="0.9"/>
<circle cx="529.0" cy="85.6" r="2.0" fill="#fff" stroke="#111" stroke-width="0.9"/>
<circle cx="534.0" cy="85.6" r="2.0" fill="#fff" stroke="#111" stroke-width="0.9"/>
<circle cx="530.0" cy="88.0" r="2.0" fill="#fff" stroke="#111" stroke-width="0.9"/>
<circle cx="533.6" cy="88.0" r="2.0" fill="#fff" stroke="#111" stroke-width="0.9"/>
<circle cx="531.0" cy="92.0" r="2.0" fill="#fff" stroke="#111" stroke-width="0.9"/>
<circle cx="529.6" cy="97.0" r="2.0" fill="#fff" stroke="#111" stroke-width="0.9"/>
<circle cx="532.0" cy="100.0" r="2.0" fill="#fff" stroke="#111" stroke-width="0.9"/>
<circle cx="530.4" cy="100.0" r="2.0" fill="#fff" stroke="#111" stroke-width="0.9"/>
<line x1="564.5" y1="100" x2="575.5" y2="100" stroke="#111" stroke-width="1" />
<line x1="570" y1="95" x2="570" y2="105" stroke="#111" stroke-width="0.9" />
<line x1="567.2" y1="95" x2="572.8" y2="95" stroke="#111" stroke-width="0.9" />
<line x1="567.2" y1="105" x2="572.8" y2="105" stroke="#111" stroke-width="0.9" />
<circle cx="570.0" cy="80.0" r="2.0" fill="#fff" stroke="#111" stroke-width="0.9"/>
<circle cx="570.0" cy="92.0" r="2.0" fill="#fff" stroke="#111" stroke-width="0.9"/>
<circle cx="568.0" cy="97.0" r="2.0" fill="#fff" stroke="#111" stroke-width="0.9"/>
<circle cx="572.0" cy="97.0" r="2.0" fill="#fff" stroke="#111" stroke-width="0.9"/>
<circle cx="569.0" cy="100.0" r="2.0" fill="#fff" stroke="#111" stroke-width="0.9"/>
<circle cx="571.0" cy="101.0" r="2.0" fill="#fff" stroke="#111" stroke-width="0.9"/>
<circle cx="570.0" cy="103.0" r="2.0" fill="#fff" stroke="#111" stroke-width="0.9"/>
<circle cx="570.0" cy="108.0" r="2.0" fill="#fff" stroke="#111" stroke-width="0.9"/>
<circle cx="570.0" cy="114.0" r="2.0" fill="#fff" stroke="#111" stroke-width="0.9"/>
<circle cx="570.0" cy="121.0" r="2.0" fill="#fff" stroke="#111" stroke-width="0.9"/>
<line x1="603.5" y1="121" x2="614.5" y2="121" stroke="#111" stroke-width="1" />
<line x1="609" y1="116" x2="609" y2="126" stroke="#111" stroke-width="0.9" />
<line x1="606.2" y1="116" x2="611.8" y2="116" stroke="#111" stroke-width="0.9" />
<line x1="606.2" y1="126" x2="611.8" y2="126" stroke="#111" stroke-width="0.9" />
<circle cx="609.0" cy="95.0" r="2.0" fill="#fff" stroke="#111" stroke-width="0.9"/>
<circle cx="609.0" cy="108.0" r="2.0" fill="#fff" stroke="#111" stroke-width="0.9"/>
<circle cx="609.0" cy="115.0" r="2.0" fill="#fff" stroke="#111" stroke-width="0.9"/>
<circle cx="608.0" cy="120.0" r="2.0" fill="#fff" stroke="#111" stroke-width="0.9"/>
<circle cx="606.5" cy="122.0" r="2.0" fill="#fff" stroke="#111" stroke-width="0.9"/>
<circle cx="611.0" cy="123.0" r="2.0" fill="#fff" stroke="#111" stroke-width="0.9"/>
<circle cx="613.0" cy="124.5" r="2.0" fill="#fff" stroke="#111" stroke-width="0.9"/>
<circle cx="607.0" cy="140.4" r="2.0" fill="#fff" stroke="#111" stroke-width="0.9"/>
<circle cx="610.4" cy="139.6" r="2.0" fill="#fff" stroke="#111" stroke-width="0.9"/>
<line x1="642.5" y1="135" x2="653.5" y2="135" stroke="#111" stroke-width="1" />
<line x1="648" y1="131" x2="648" y2="139" stroke="#111" stroke-width="0.9" />
<line x1="645.2" y1="131" x2="650.8" y2="131" stroke="#111" stroke-width="0.9" />
<line x1="645.2" y1="139" x2="650.8" y2="139" stroke="#111" stroke-width="0.9" />
<circle cx="646.0" cy="125.0" r="2.0" fill="#fff" stroke="#111" stroke-width="0.9"/>
<circle cx="650.0" cy="126.0" r="2.0" fill="#fff" stroke="#111" stroke-width="0.9"/>
<circle cx="648.0" cy="127.5" r="2.0" fill="#fff" stroke="#111" stroke-width="0.9"/>
<circle cx="646.5" cy="129.0" r="2.0" fill="#fff" stroke="#111" stroke-width="0.9"/>
<circle cx="649.0" cy="131.0" r="2.0" fill="#fff" stroke="#111" stroke-width="0.9"/>
<circle cx="648.0" cy="137.0" r="2.0" fill="#fff" stroke="#111" stroke-width="0.9"/>
<circle cx="648.0" cy="144.0" r="2.0" fill="#fff" stroke="#111" stroke-width="0.9"/>
<circle cx="648.0" cy="148.0" r="2.0" fill="#fff" stroke="#111" stroke-width="0.9"/>
<rect x="502.1" y="74.0" width="3.9" height="3.9" fill="#bcdca4" stroke="#3cb649" stroke-width="1.0"/>
<rect x="506.1" y="73.6" width="3.9" height="3.9" fill="#bcdca4" stroke="#3cb649" stroke-width="1.0"/>
<rect x="501.1" y="77.0" width="3.9" height="3.9" fill="#bcdca4" stroke="#3cb649" stroke-width="1.0"/>
<rect x="505.1" y="76.5" width="3.9" height="3.9" fill="#bcdca4" stroke="#3cb649" stroke-width="1.0"/>
<rect x="507.7" y="76.0" width="3.9" height="3.9" fill="#bcdca4" stroke="#3cb649" stroke-width="1.0"/>
<rect x="503.1" y="79.0" width="3.9" height="3.9" fill="#bcdca4" stroke="#3cb649" stroke-width="1.0"/>
<rect x="506.1" y="79.6" width="3.9" height="3.9" fill="#bcdca4" stroke="#3cb649" stroke-width="1.0"/>
<rect x="502.4" y="83.6" width="3.9" height="3.9" fill="#bcdca4" stroke="#3cb649" stroke-width="1.0"/>
<rect x="504.1" y="81.5" width="3.9" height="3.9" fill="#bcdca4" stroke="#3cb649" stroke-width="1.0"/>
<rect x="543.6" y="86.0" width="3.9" height="3.9" fill="#bcdca4" stroke="#3cb649" stroke-width="1.0"/>
<rect x="546.4" y="93.0" width="3.9" height="3.9" fill="#bcdca4" stroke="#3cb649" stroke-width="1.0"/>
<rect x="543.0" y="95.0" width="3.9" height="3.9" fill="#bcdca4" stroke="#3cb649" stroke-width="1.0"/>
<rect x="540.0" y="102.0" width="3.9" height="3.9" fill="#bcdca4" stroke="#3cb649" stroke-width="1.0"/>
<rect x="543.6" y="103.0" width="3.9" height="3.9" fill="#bcdca4" stroke="#3cb649" stroke-width="1.0"/>
<rect x="547.0" y="104.0" width="3.9" height="3.9" fill="#bcdca4" stroke="#3cb649" stroke-width="1.0"/>
<rect x="544.0" y="107.0" width="3.9" height="3.9" fill="#bcdca4" stroke="#3cb649" stroke-width="1.0"/>
<rect x="547.0" y="108.0" width="3.9" height="3.9" fill="#bcdca4" stroke="#3cb649" stroke-width="1.0"/>
<rect x="543.6" y="112.0" width="3.9" height="3.9" fill="#bcdca4" stroke="#3cb649" stroke-width="1.0"/>
<rect x="543.6" y="121.6" width="3.9" height="3.9" fill="#bcdca4" stroke="#3cb649" stroke-width="1.0"/>
<line x1="540.1" y1="102" x2="551.1" y2="102" stroke="#4cb84c" stroke-width="1" />
<line x1="545.6" y1="98" x2="545.6" y2="106" stroke="#4cb84c" stroke-width="0.9" />
<line x1="542.8000000000001" y1="98" x2="548.4" y2="98" stroke="#4cb84c" stroke-width="0.9" />
<line x1="542.8000000000001" y1="106" x2="548.4" y2="106" stroke="#4cb84c" stroke-width="0.9" />
<rect x="582.4" y="104.5" width="3.9" height="3.9" fill="#bcdca4" stroke="#3cb649" stroke-width="1.0"/>
<rect x="579.0" y="119.0" width="3.9" height="3.9" fill="#bcdca4" stroke="#3cb649" stroke-width="1.0"/>
<rect x="586.0" y="119.0" width="3.9" height="3.9" fill="#bcdca4" stroke="#3cb649" stroke-width="1.0"/>
<rect x="582.4" y="126.0" width="3.9" height="3.9" fill="#bcdca4" stroke="#3cb649" stroke-width="1.0"/>
<rect x="582.4" y="138.1" width="3.9" height="3.9" fill="#bcdca4" stroke="#3cb649" stroke-width="1.0"/>
<rect x="582.4" y="143.1" width="3.9" height="3.9" fill="#bcdca4" stroke="#3cb649" stroke-width="1.0"/>
<rect x="582.4" y="151.7" width="3.9" height="3.9" fill="#bcdca4" stroke="#3cb649" stroke-width="1.0"/>
<rect x="582.4" y="159.7" width="3.9" height="3.9" fill="#bcdca4" stroke="#3cb649" stroke-width="1.0"/>
<line x1="578.9" y1="133" x2="589.9" y2="133" stroke="#4cb84c" stroke-width="1" />
<line x1="584.4" y1="127" x2="584.4" y2="139" stroke="#4cb84c" stroke-width="0.9" />
<line x1="581.6" y1="127" x2="587.1999999999999" y2="127" stroke="#4cb84c" stroke-width="0.9" />
<line x1="581.6" y1="139" x2="587.1999999999999" y2="139" stroke="#4cb84c" stroke-width="0.9" />
<rect x="621.6" y="119.0" width="3.9" height="3.9" fill="#bcdca4" stroke="#3cb649" stroke-width="1.0"/>
<rect x="624.0" y="127.0" width="3.9" height="3.9" fill="#bcdca4" stroke="#3cb649" stroke-width="1.0"/>
<rect x="619.0" y="130.1" width="3.9" height="3.9" fill="#bcdca4" stroke="#3cb649" stroke-width="1.0"/>
<rect x="624.0" y="132.5" width="3.9" height="3.9" fill="#bcdca4" stroke="#3cb649" stroke-width="1.0"/>
<rect x="620.0" y="135.1" width="3.9" height="3.9" fill="#bcdca4" stroke="#3cb649" stroke-width="1.0"/>
<rect x="624.0" y="136.6" width="3.9" height="3.9" fill="#bcdca4" stroke="#3cb649" stroke-width="1.0"/>
<rect x="621.6" y="138.1" width="3.9" height="3.9" fill="#bcdca4" stroke="#3cb649" stroke-width="1.0"/>
<rect x="621.6" y="142.5" width="3.9" height="3.9" fill="#bcdca4" stroke="#3cb649" stroke-width="1.0"/>
<rect x="621.6" y="156.1" width="3.9" height="3.9" fill="#bcdca4" stroke="#3cb649" stroke-width="1.0"/>
<rect x="621.6" y="169.1" width="3.9" height="3.9" fill="#bcdca4" stroke="#3cb649" stroke-width="1.0"/>
<line x1="618.1" y1="137" x2="629.1" y2="137" stroke="#4cb84c" stroke-width="1" />
<line x1="623.6" y1="132.5" x2="623.6" y2="141.5" stroke="#4cb84c" stroke-width="0.9" />
<line x1="620.8000000000001" y1="132.5" x2="626.4" y2="132.5" stroke="#4cb84c" stroke-width="0.9" />
<line x1="620.8000000000001" y1="141.5" x2="626.4" y2="141.5" stroke="#4cb84c" stroke-width="0.9" />
<rect x="658.0" y="131.1" width="3.9" height="3.9" fill="#bcdca4" stroke="#3cb649" stroke-width="1.0"/>
<rect x="664.0" y="132.1" width="3.9" height="3.9" fill="#bcdca4" stroke="#3cb649" stroke-width="1.0"/>
<rect x="660.0" y="134.1" width="3.9" height="3.9" fill="#bcdca4" stroke="#3cb649" stroke-width="1.0"/>
<rect x="663.0" y="136.1" width="3.9" height="3.9" fill="#bcdca4" stroke="#3cb649" stroke-width="1.0"/>
<rect x="659.0" y="138.1" width="3.9" height="3.9" fill="#bcdca4" stroke="#3cb649" stroke-width="1.0"/>
<rect x="662.0" y="140.1" width="3.9" height="3.9" fill="#bcdca4" stroke="#3cb649" stroke-width="1.0"/>
<rect x="659.0" y="146.1" width="3.9" height="3.9" fill="#bcdca4" stroke="#3cb649" stroke-width="1.0"/>
<rect x="663.0" y="147.1" width="3.9" height="3.9" fill="#bcdca4" stroke="#3cb649" stroke-width="1.0"/>
<line x1="657.5" y1="140" x2="668.5" y2="140" stroke="#4cb84c" stroke-width="1" />
<line x1="663" y1="137" x2="663" y2="143" stroke="#4cb84c" stroke-width="0.9" />
<line x1="660.2" y1="137" x2="665.8" y2="137" stroke="#4cb84c" stroke-width="0.9" />
<line x1="660.2" y1="143" x2="665.8" y2="143" stroke="#4cb84c" stroke-width="0.9" />
<path d="M531.5 74 L531.5 66.8 L545.6 66.8 L545.6 81" fill="none" stroke="#111" stroke-width="1"/>
<path d="M570 74 L570 66.8 L584.4 66.8 L584.4 98" fill="none" stroke="#111" stroke-width="1"/>
<path d="M609 90 L609 83.6 L623.6 83.6 L623.6 113.6" fill="none" stroke="#111" stroke-width="1"/>
<text x="538.8" y="65.6" font-size="14.2" font-weight="bold" text-anchor="middle" fill="#111">*</text>
<text x="577.9" y="66.4" font-size="15.4" font-weight="bold" text-anchor="middle" fill="#111">****</text>
<text x="616.3" y="84.8" font-size="15.0" font-weight="bold" text-anchor="middle" fill="#111">**</text>
<text x="-0.8" y="250.9" font-size="15.8" font-weight="bold" text-anchor="start" fill="#111" >c</text>
<text x="83.5" y="263" font-size="13.3" font-weight="bold" text-anchor="start" fill="#111" >Gradient Temperature</text>
<line x1="22" y1="274.6" x2="34.4" y2="274.6" stroke="#111" stroke-width="1" />
<circle cx="28.2" cy="274.6" r="2.1" fill="#fff" stroke="#111" stroke-width="0.9"/>
<text x="40" y="278.6" font-size="11.2" font-weight="bold" text-anchor="start" fill="#111" >Control</text>
<line x1="22" y1="288" x2="34.4" y2="288" stroke="#3cb043" stroke-width="1" />
<rect x="26.3" y="286.1" width="3.8" height="3.8" fill="#bcdca4" stroke="#4cb84c" stroke-width="0.9"/>
<text x="40" y="291.4" font-size="11.4" font-weight="bold" fill="#111">Calcrl<tspan font-size="7.2" dy="-4.4">SPB</tspan><tspan dy="4.4">-Abl</tspan></text>
<path d="M112 276.6 L115.6 276.6 L115.6 289.4 L112 289.4" fill="none" stroke="#111" stroke-width="0.9"/>
<text transform="translate(120.2,274.2) rotate(90)" font-size="10.3" font-weight="bold" fill="#111" stroke="#111" stroke-width="0.35" text-anchor="start" textLength="17" lengthAdjust="spacingAndGlyphs">####</text>
<text x="141.2" y="275.7" font-size="9.8" font-weight="bold" text-anchor="start" fill="#111" >5°C</text>
<text x="254.6" y="275.7" font-size="9.8" font-weight="bold" text-anchor="start" fill="#111" >50°C</text>
<rect x="162.8" y="279" width="86.5" height="13.2" fill="#454545"/>
<path d="M162.8 292 L249.3 292 L263.6 297 L162.8 297 Z" fill="#c49a6c"/><line x1="162.8" y1="296.6" x2="263" y2="296.6" stroke="#b08050" stroke-width="0.7"/>
<line x1="162.8" y1="292.3" x2="250" y2="292.3" stroke="#a8a8a8" stroke-width="0.5"/>
<path d="M147.5 279 L162.8 282.2 L162.8 297 L147.5 292.7 Z" fill="#5d6d7c" stroke="#444" stroke-width="0.3"/>
<path d="M249.3 279 L263.6 282.7 L263.6 297 L249.3 292 Z" fill="#5d6d7c" stroke="#444" stroke-width="0.3"/>
<path d="M215.5 287.6 C221 286.6 226 283.2 228.3 278.8" fill="none" stroke="#d4a0a0" stroke-width="0.75"/>
<path d="M193 285.4 C195 283.6 197 282.6 200 282.4 C203 282 206 282.6 209 282.6 C213 282.8 216 285 216.6 288 C217 290 216.5 291.3 214 291.5 L198 291.2 C196 289.6 194.5 287.6 193 285.4 Z" fill="#6e6258"/>
<circle cx="200.7" cy="283.8" r="1.1" fill="#d6a2a0"/><circle cx="196.4" cy="284.6" r="0.45" fill="#222"/>
<line x1="197" y1="291" x2="196.4" y2="293.2" stroke="#d6a2a0" stroke-width="0.8"/>
<line x1="203" y1="291" x2="202.4" y2="293.2" stroke="#d6a2a0" stroke-width="0.8"/>
<line x1="207.5" y1="291" x2="206.9" y2="293.2" stroke="#d6a2a0" stroke-width="0.8"/>
<line x1="218.5" y1="291" x2="217.9" y2="293.2" stroke="#d6a2a0" stroke-width="0.8"/>
<line x1="46.3" y1="298.6" x2="46.3" y2="392.2" stroke="#808080" stroke-width="1.4" />
<line x1="44.6" y1="299.1" x2="46.3" y2="299.1" stroke="#555" stroke-width="1" />
<text x="44.3" y="306.9" font-size="11.8" font-weight="bold" text-anchor="end" fill="#111" >40</text>
<line x1="44.6" y1="322.2" x2="46.3" y2="322.2" stroke="#555" stroke-width="1" />
<text x="44.3" y="329.3" font-size="11.8" font-weight="bold" text-anchor="end" fill="#111" >30</text>
<line x1="44.6" y1="345.4" x2="46.3" y2="345.4" stroke="#555" stroke-width="1" />
<text x="44.3" y="351.0" font-size="11.8" font-weight="bold" text-anchor="end" fill="#111" >20</text>
<line x1="44.6" y1="368.5" x2="46.3" y2="368.5" stroke="#555" stroke-width="1" />
<text x="44.3" y="374.0" font-size="11.8" font-weight="bold" text-anchor="end" fill="#111" >10</text>
<line x1="44.6" y1="391.7" x2="46.3" y2="391.7" stroke="#555" stroke-width="1" />
<text x="44.3" y="396.5" font-size="11.8" font-weight="bold" text-anchor="end" fill="#111" >0</text>
<text transform="translate(19.4,344.6) rotate(-90)" font-size="11.8" font-weight="bold" text-anchor="middle" fill="#111" >Occupancy (%)</text>
<line x1="49.6" y1="400.1" x2="259.6" y2="400.1" stroke="#808080" stroke-width="1.4" />
<line x1="57.5" y1="400.1" x2="57.5" y2="403" stroke="#555" stroke-width="0.9" />
<text transform="translate(59.7,409.6) rotate(-45)" font-size="10.1" font-weight="bold" text-anchor="end" fill="#111">5</text>
<line x1="68.27" y1="400.1" x2="68.27" y2="403" stroke="#555" stroke-width="0.9" />
<text transform="translate(70.8,409.6) rotate(-45)" font-size="10.1" font-weight="bold" text-anchor="end" fill="#111">7.5</text>
<line x1="79.03999999999999" y1="400.1" x2="79.03999999999999" y2="403" stroke="#555" stroke-width="0.9" />
<text transform="translate(81.8,409.6) rotate(-45)" font-size="10.1" font-weight="bold" text-anchor="end" fill="#111">10</text>
<line x1="89.81" y1="400.1" x2="89.81" y2="403" stroke="#555" stroke-width="0.9" />
<text transform="translate(92.9,409.6) rotate(-45)" font-size="10.1" font-weight="bold" text-anchor="end" fill="#111">12.5</text>
<line x1="100.58" y1="400.1" x2="100.58" y2="403" stroke="#555" stroke-width="0.9" />
<text transform="translate(104.0,409.6) rotate(-45)" font-size="10.1" font-weight="bold" text-anchor="end" fill="#111">15</text>
<line x1="111.35" y1="400.1" x2="111.35" y2="403" stroke="#555" stroke-width="0.9" />
<text transform="translate(115.1,409.6) rotate(-45)" font-size="10.1" font-weight="bold" text-anchor="end" fill="#111">17.5</text>
<line x1="122.12" y1="400.1" x2="122.12" y2="403" stroke="#555" stroke-width="0.9" />
<text transform="translate(126.1,409.6) rotate(-45)" font-size="10.1" font-weight="bold" text-anchor="end" fill="#111">20</text>
<line x1="132.89" y1="400.1" x2="132.89" y2="403" stroke="#555" stroke-width="0.9" />
<text transform="translate(137.2,409.6) rotate(-45)" font-size="10.1" font-weight="bold" text-anchor="end" fill="#111">22.5</text>
<line x1="143.66" y1="400.1" x2="143.66" y2="403" stroke="#555" stroke-width="0.9" />
<text transform="translate(148.3,409.6) rotate(-45)" font-size="10.1" font-weight="bold" text-anchor="end" fill="#111">25</text>
<line x1="154.43" y1="400.1" x2="154.43" y2="403" stroke="#555" stroke-width="0.9" />
<text transform="translate(159.3,409.6) rotate(-45)" font-size="10.1" font-weight="bold" text-anchor="end" fill="#111">27.5</text>
<line x1="165.2" y1="400.1" x2="165.2" y2="403" stroke="#555" stroke-width="0.9" />
<text transform="translate(170.4,409.6) rotate(-45)" font-size="10.1" font-weight="bold" text-anchor="end" fill="#111">30</text>
<line x1="175.97" y1="400.1" x2="175.97" y2="403" stroke="#555" stroke-width="0.9" />
<text transform="translate(181.5,409.6) rotate(-45)" font-size="10.1" font-weight="bold" text-anchor="end" fill="#111">32.5</text>
<line x1="186.74" y1="400.1" x2="186.74" y2="403" stroke="#555" stroke-width="0.9" />
<text transform="translate(192.5,409.6) rotate(-45)" font-size="10.1" font-weight="bold" text-anchor="end" fill="#111">35</text>
<line x1="197.51" y1="400.1" x2="197.51" y2="403" stroke="#555" stroke-width="0.9" />
<text transform="translate(203.6,409.6) rotate(-45)" font-size="10.1" font-weight="bold" text-anchor="end" fill="#111">37.5</text>
<line x1="208.28" y1="400.1" x2="208.28" y2="403" stroke="#555" stroke-width="0.9" />
<text transform="translate(214.7,409.6) rotate(-45)" font-size="10.1" font-weight="bold" text-anchor="end" fill="#111">40</text>
<line x1="219.04999999999998" y1="400.1" x2="219.04999999999998" y2="403" stroke="#555" stroke-width="0.9" />
<text transform="translate(225.8,409.6) rotate(-45)" font-size="10.1" font-weight="bold" text-anchor="end" fill="#111">42.5</text>
<line x1="229.82" y1="400.1" x2="229.82" y2="403" stroke="#555" stroke-width="0.9" />
<text transform="translate(236.8,409.6) rotate(-45)" font-size="10.1" font-weight="bold" text-anchor="end" fill="#111">45</text>
<line x1="240.59" y1="400.1" x2="240.59" y2="403" stroke="#555" stroke-width="0.9" />
<text transform="translate(247.9,409.6) rotate(-45)" font-size="10.1" font-weight="bold" text-anchor="end" fill="#111">47.5</text>
<line x1="251.35999999999999" y1="400.1" x2="251.35999999999999" y2="403" stroke="#555" stroke-width="0.9" />
<text transform="translate(259.0,409.6) rotate(-45)" font-size="10.1" font-weight="bold" text-anchor="end" fill="#111">50</text>
<text x="105.2" y="434.8" font-size="12.8" font-weight="bold" text-anchor="start" fill="#111" >Temperature (°C)</text>
<polyline points="62.9,390.0 73.7,388.4 84.4,388.4 95.2,385.6 106.0,376.0 116.8,344.0 127.5,346.4 138.3,356.0 149.1,357.6 159.8,379.0 170.6,384.6 181.4,388.0 192.1,390.6 202.9,391.0 213.7,391.0 224.4,390.6 235.2,390.6 246.0,387.0" fill="none" stroke="#4cb84c" stroke-width="1.1"/>
<line x1="105.97999999999999" y1="372.4" x2="105.97999999999999" y2="379.6" stroke="#4cb84c" stroke-width="1" />
<line x1="103.97999999999999" y1="372.4" x2="107.97999999999999" y2="372.4" stroke="#4cb84c" stroke-width="1" />
<line x1="103.97999999999999" y1="379.6" x2="107.97999999999999" y2="379.6" stroke="#4cb84c" stroke-width="1" />
<line x1="116.75" y1="332.4" x2="116.75" y2="355.6" stroke="#4cb84c" stroke-width="1" />
<line x1="114.75" y1="332.4" x2="118.75" y2="332.4" stroke="#4cb84c" stroke-width="1" />
<line x1="114.75" y1="355.6" x2="118.75" y2="355.6" stroke="#4cb84c" stroke-width="1" />
<line x1="127.52000000000001" y1="339.6" x2="127.52000000000001" y2="353.6" stroke="#4cb84c" stroke-width="1" />
<line x1="125.52000000000001" y1="339.6" x2="129.52" y2="339.6" stroke="#4cb84c" stroke-width="1" />
<line x1="125.52000000000001" y1="353.6" x2="129.52" y2="353.6" stroke="#4cb84c" stroke-width="1" />
<line x1="138.29" y1="345.4" x2="138.29" y2="366.4" stroke="#4cb84c" stroke-width="1" />
<line x1="136.29" y1="345.4" x2="140.29" y2="345.4" stroke="#4cb84c" stroke-width="1" />
<line x1="136.29" y1="366.4" x2="140.29" y2="366.4" stroke="#4cb84c" stroke-width="1" />
<line x1="149.06" y1="350" x2="149.06" y2="363" stroke="#4cb84c" stroke-width="1" />
<line x1="147.06" y1="350" x2="151.06" y2="350" stroke="#4cb84c" stroke-width="1" />
<line x1="147.06" y1="363" x2="151.06" y2="363" stroke="#4cb84c" stroke-width="1" />
<line x1="159.82999999999998" y1="376" x2="159.82999999999998" y2="381" stroke="#4cb84c" stroke-width="1" />
<line x1="157.82999999999998" y1="376" x2="161.82999999999998" y2="376" stroke="#4cb84c" stroke-width="1" />
<line x1="157.82999999999998" y1="381" x2="161.82999999999998" y2="381" stroke="#4cb84c" stroke-width="1" />
<line x1="170.6" y1="382" x2="170.6" y2="387" stroke="#4cb84c" stroke-width="1" />
<line x1="168.6" y1="382" x2="172.6" y2="382" stroke="#4cb84c" stroke-width="1" />
<line x1="168.6" y1="387" x2="172.6" y2="387" stroke="#4cb84c" stroke-width="1" />
<rect x="61.0" y="388.1" width="3.8" height="3.8" fill="#bcdca4" stroke="#4cb84c" stroke-width="0.9"/>
<rect x="71.8" y="386.5" width="3.8" height="3.8" fill="#bcdca4" stroke="#4cb84c" stroke-width="0.9"/>
<rect x="82.5" y="386.5" width="3.8" height="3.8" fill="#bcdca4" stroke="#4cb84c" stroke-width="0.9"/>
<rect x="93.3" y="383.7" width="3.8" height="3.8" fill="#bcdca4" stroke="#4cb84c" stroke-width="0.9"/>
<rect x="104.1" y="374.1" width="3.8" height="3.8" fill="#bcdca4" stroke="#4cb84c" stroke-width="0.9"/>
<rect x="114.8" y="342.1" width="3.8" height="3.8" fill="#bcdca4" stroke="#4cb84c" stroke-width="0.9"/>
<rect x="125.6" y="344.5" width="3.8" height="3.8" fill="#bcdca4" stroke="#4cb84c" stroke-width="0.9"/>
<rect x="136.4" y="354.1" width="3.8" height="3.8" fill="#bcdca4" stroke="#4cb84c" stroke-width="0.9"/>
<rect x="147.2" y="355.7" width="3.8" height="3.8" fill="#bcdca4" stroke="#4cb84c" stroke-width="0.9"/>
<rect x="157.9" y="377.1" width="3.8" height="3.8" fill="#bcdca4" stroke="#4cb84c" stroke-width="0.9"/>
<rect x="168.7" y="382.7" width="3.8" height="3.8" fill="#bcdca4" stroke="#4cb84c" stroke-width="0.9"/>
<rect x="179.5" y="386.1" width="3.8" height="3.8" fill="#bcdca4" stroke="#4cb84c" stroke-width="0.9"/>
<rect x="190.2" y="388.7" width="3.8" height="3.8" fill="#bcdca4" stroke="#4cb84c" stroke-width="0.9"/>
<rect x="201.0" y="389.1" width="3.8" height="3.8" fill="#bcdca4" stroke="#4cb84c" stroke-width="0.9"/>
<rect x="211.8" y="389.1" width="3.8" height="3.8" fill="#bcdca4" stroke="#4cb84c" stroke-width="0.9"/>
<rect x="222.5" y="388.7" width="3.8" height="3.8" fill="#bcdca4" stroke="#4cb84c" stroke-width="0.9"/>
<rect x="233.3" y="388.7" width="3.8" height="3.8" fill="#bcdca4" stroke="#4cb84c" stroke-width="0.9"/>
<rect x="244.1" y="385.1" width="3.8" height="3.8" fill="#bcdca4" stroke="#4cb84c" stroke-width="0.9"/>
<polyline points="62.9,389.4 73.7,388.6 84.4,389.4 95.2,389.0 106.0,389.4 116.8,387.6 127.5,384.0 138.3,379.4 149.1,357.6 159.8,333.6 170.6,353.8 181.4,366.0 192.1,378.4 202.9,386.6 213.7,388.0 224.4,390.0 235.2,390.0 246.0,385.4" fill="none" stroke="#111" stroke-width="1.1"/>
<line x1="127.52000000000001" y1="380.4" x2="127.52000000000001" y2="387.4" stroke="#111" stroke-width="1" />
<line x1="125.52000000000001" y1="380.4" x2="129.52" y2="380.4" stroke="#111" stroke-width="1" />
<line x1="125.52000000000001" y1="387.4" x2="129.52" y2="387.4" stroke="#111" stroke-width="1" />
<line x1="138.29" y1="375.4" x2="138.29" y2="383.4" stroke="#111" stroke-width="1" />
<line x1="136.29" y1="375.4" x2="140.29" y2="375.4" stroke="#111" stroke-width="1" />
<line x1="136.29" y1="383.4" x2="140.29" y2="383.4" stroke="#111" stroke-width="1" />
<line x1="149.06" y1="347" x2="149.06" y2="367.4" stroke="#111" stroke-width="1" />
<line x1="147.06" y1="347" x2="151.06" y2="347" stroke="#111" stroke-width="1" />
<line x1="147.06" y1="367.4" x2="151.06" y2="367.4" stroke="#111" stroke-width="1" />
<line x1="159.82999999999998" y1="315.6" x2="159.82999999999998" y2="351" stroke="#111" stroke-width="1" />
<line x1="157.82999999999998" y1="315.6" x2="161.82999999999998" y2="315.6" stroke="#111" stroke-width="1" />
<line x1="157.82999999999998" y1="351" x2="161.82999999999998" y2="351" stroke="#111" stroke-width="1" />
<line x1="170.6" y1="342.4" x2="170.6" y2="364" stroke="#111" stroke-width="1" />
<line x1="168.6" y1="342.4" x2="172.6" y2="342.4" stroke="#111" stroke-width="1" />
<line x1="168.6" y1="364" x2="172.6" y2="364" stroke="#111" stroke-width="1" />
<line x1="181.37" y1="357" x2="181.37" y2="374.4" stroke="#111" stroke-width="1" />
<line x1="179.37" y1="357" x2="183.37" y2="357" stroke="#111" stroke-width="1" />
<line x1="179.37" y1="374.4" x2="183.37" y2="374.4" stroke="#111" stroke-width="1" />
<line x1="192.14000000000001" y1="369.6" x2="192.14000000000001" y2="387" stroke="#111" stroke-width="1" />
<line x1="190.14000000000001" y1="369.6" x2="194.14000000000001" y2="369.6" stroke="#111" stroke-width="1" />
<line x1="190.14000000000001" y1="387" x2="194.14000000000001" y2="387" stroke="#111" stroke-width="1" />
<line x1="202.91" y1="384" x2="202.91" y2="389" stroke="#111" stroke-width="1" />
<line x1="200.91" y1="384" x2="204.91" y2="384" stroke="#111" stroke-width="1" />
<line x1="200.91" y1="389" x2="204.91" y2="389" stroke="#111" stroke-width="1" />
<line x1="213.68" y1="386" x2="213.68" y2="390" stroke="#111" stroke-width="1" />
<line x1="211.68" y1="386" x2="215.68" y2="386" stroke="#111" stroke-width="1" />
<line x1="211.68" y1="390" x2="215.68" y2="390" stroke="#111" stroke-width="1" />
<line x1="245.99" y1="382.4" x2="245.99" y2="388" stroke="#111" stroke-width="1" />
<line x1="243.99" y1="382.4" x2="247.99" y2="382.4" stroke="#111" stroke-width="1" />
<line x1="243.99" y1="388" x2="247.99" y2="388" stroke="#111" stroke-width="1" />
<circle cx="62.9" cy="389.4" r="2.0" fill="#fff" stroke="#111" stroke-width="0.9"/>
<circle cx="73.7" cy="388.6" r="2.0" fill="#fff" stroke="#111" stroke-width="0.9"/>
<circle cx="84.4" cy="389.4" r="2.0" fill="#fff" stroke="#111" stroke-width="0.9"/>
<circle cx="95.2" cy="389.0" r="2.0" fill="#fff" stroke="#111" stroke-width="0.9"/>
<circle cx="106.0" cy="389.4" r="2.0" fill="#fff" stroke="#111" stroke-width="0.9"/>
<circle cx="116.8" cy="387.6" r="2.0" fill="#fff" stroke="#111" stroke-width="0.9"/>
<circle cx="127.5" cy="384.0" r="2.0" fill="#fff" stroke="#111" stroke-width="0.9"/>
<circle cx="138.3" cy="379.4" r="2.0" fill="#fff" stroke="#111" stroke-width="0.9"/>
<circle cx="149.1" cy="357.6" r="2.0" fill="#fff" stroke="#111" stroke-width="0.9"/>
<circle cx="159.8" cy="333.6" r="2.0" fill="#fff" stroke="#111" stroke-width="0.9"/>
<circle cx="170.6" cy="353.8" r="2.0" fill="#fff" stroke="#111" stroke-width="0.9"/>
<circle cx="181.4" cy="366.0" r="2.0" fill="#fff" stroke="#111" stroke-width="0.9"/>
<circle cx="192.1" cy="378.4" r="2.0" fill="#fff" stroke="#111" stroke-width="0.9"/>
<circle cx="202.9" cy="386.6" r="2.0" fill="#fff" stroke="#111" stroke-width="0.9"/>
<circle cx="213.7" cy="388.0" r="2.0" fill="#fff" stroke="#111" stroke-width="0.9"/>
<circle cx="224.4" cy="390.0" r="2.0" fill="#fff" stroke="#111" stroke-width="0.9"/>
<circle cx="235.2" cy="390.0" r="2.0" fill="#fff" stroke="#111" stroke-width="0.9"/>
<circle cx="246.0" cy="385.4" r="2.0" fill="#fff" stroke="#111" stroke-width="0.9"/>
<text x="116.5" y="334.4" font-size="13.6" font-weight="bold" text-anchor="middle" fill="#111">****</text>
<text x="127.5" y="344.4" font-size="13.6" font-weight="bold" text-anchor="middle" fill="#111">****</text>
<text x="170.5" y="385.5" font-size="14.3" font-weight="bold" text-anchor="middle" fill="#111">**</text>
<text x="159.5" y="396.4" font-size="13.6" font-weight="bold" text-anchor="middle" fill="#111">****</text>
<text x="287.6" y="250.9" font-size="15.8" font-weight="bold" text-anchor="start" fill="#111" >d</text>
<text x="324.2" y="263" font-size="13.4" font-weight="bold" text-anchor="start" fill="#111" >TCWT (15°C)</text>
<path d="M411 300.5 C414.5 304 414 307.3 409 307 C398 306.6 385 306.2 376.2 306.6" fill="none" stroke="#c48e88" stroke-width="1.3"/>
<path d="M381 288 C381 283 386 279.6 393 279.3 C403 279 410 284 411.6 292 C412.6 297 411 301.8 407 302.6 L389 302.9 C385 302.6 381.5 299 381 295 Z" fill="#4e4e4e"/>
<ellipse cx="384.2" cy="292.6" rx="6.4" ry="8.2" transform="rotate(-12 384.2 292.6)" fill="#484848"/>
<ellipse cx="385.2" cy="283.6" rx="2.3" ry="3.1" fill="#5a4c4c"/><ellipse cx="385.4" cy="284" rx="1.3" ry="2" fill="#c48c8c"/>
<ellipse cx="378.3" cy="289.4" rx="2.1" ry="1.5" fill="#3c3c3c"/>
<circle cx="384.1" cy="293.4" r="0.65" fill="#111"/>
<ellipse cx="389.2" cy="301" rx="2.3" ry="1.5" fill="#c89090"/>
<path d="M389.6 309.8 L390.3 307.6 L391 309.8 Z" fill="#9cc4dc"/>
<rect x="388.3" y="309.6" width="4" height="14.6" fill="#b8d8ee" stroke="#9aaab4" stroke-width="0.45"/>
<rect x="388.2" y="324.1" width="4.2" height="1.3" fill="#555"/>
<rect x="388.4" y="325.4" width="3.8" height="17.6" fill="#f2f2f2" stroke="#b4b4b4" stroke-width="0.45"/>
<rect x="386.4" y="327.6" width="7.8" height="1.4" fill="#e8e8e8" stroke="#b4b4b4" stroke-width="0.4"/>
<rect x="389.6" y="343" width="1.4" height="2" fill="#ddd"/>
<rect x="388.2" y="345" width="4.2" height="1.4" fill="#e4e4e4" stroke="#b4b4b4" stroke-width="0.4"/>
<text x="397.4" y="324.7" font-size="11.2" font-weight="bold" text-anchor="start" fill="#111" >Water</text>
<line x1="331.6" y1="312.4" x2="331.6" y2="400.6" stroke="#111" stroke-width="1" />
<line x1="331.2" y1="400.2" x2="391" y2="400.2" stroke="#111" stroke-width="1" />
<line x1="328.6" y1="400.4" x2="331.6" y2="400.4" stroke="#111" stroke-width="1" />
<text x="324.4" y="404.0" font-size="11" font-weight="bold" text-anchor="end" fill="#111" >0</text>
<line x1="328.6" y1="378.4" x2="331.6" y2="378.4" stroke="#111" stroke-width="1" />
<text x="324.4" y="382.0" font-size="11" font-weight="bold" text-anchor="end" fill="#111" >1</text>
<line x1="328.6" y1="356.4" x2="331.6" y2="356.4" stroke="#111" stroke-width="1" />
<text x="324.4" y="360.0" font-size="11" font-weight="bold" text-anchor="end" fill="#111" >2</text>
<line x1="328.6" y1="334.4" x2="331.6" y2="334.4" stroke="#111" stroke-width="1" />
<text x="324.4" y="338.0" font-size="11" font-weight="bold" text-anchor="end" fill="#111" >3</text>
<line x1="328.6" y1="312.4" x2="331.6" y2="312.4" stroke="#111" stroke-width="1" />
<text x="324.4" y="316.0" font-size="11" font-weight="bold" text-anchor="end" fill="#111" >4</text>
<text transform="translate(307.2,355.6) rotate(-90)" font-size="12.2" font-weight="bold" text-anchor="middle" fill="#111" >Average</text>
<line x1="339.7" y1="375.4" x2="356.9" y2="375.4" stroke="#111" stroke-width="1" />
<line x1="348.1" y1="373.3" x2="348.1" y2="378" stroke="#111" stroke-width="0.9" />
<line x1="344.1" y1="373.3" x2="352.5" y2="373.3" stroke="#111" stroke-width="0.9" />
<circle cx="348.1" cy="363.5" r="1.35" fill="#fff" stroke="#111" stroke-width="0.85"/>
<circle cx="346.5" cy="370.8" r="1.35" fill="#fff" stroke="#111" stroke-width="0.85"/>
<circle cx="350.0" cy="370.8" r="1.35" fill="#fff" stroke="#111" stroke-width="0.85"/>
<circle cx="341.0" cy="378.0" r="1.35" fill="#fff" stroke="#111" stroke-width="0.85"/>
<circle cx="344.6" cy="378.0" r="1.35" fill="#fff" stroke="#111" stroke-width="0.85"/>
<circle cx="348.2" cy="378.0" r="1.35" fill="#fff" stroke="#111" stroke-width="0.85"/>
<circle cx="351.8" cy="378.0" r="1.35" fill="#fff" stroke="#111" stroke-width="0.85"/>
<circle cx="355.4" cy="378.0" r="1.35" fill="#fff" stroke="#111" stroke-width="0.85"/>
<circle cx="348.1" cy="385.4" r="1.35" fill="#fff" stroke="#111" stroke-width="0.85"/>
<rect x="365.2" y="391.6" width="3.6" height="3.6" fill="#62a062" stroke="#2a7a30" stroke-width="0.9"/>
<rect x="367.7" y="391.6" width="3.6" height="3.6" fill="#62a062" stroke="#2a7a30" stroke-width="0.9"/>
<rect x="370.2" y="391.6" width="3.6" height="3.6" fill="#62a062" stroke="#2a7a30" stroke-width="0.9"/>
<rect x="372.8" y="391.6" width="3.6" height="3.6" fill="#62a062" stroke="#2a7a30" stroke-width="0.9"/>
<rect x="375.3" y="391.6" width="3.6" height="3.6" fill="#62a062" stroke="#2a7a30" stroke-width="0.9"/>
<rect x="377.8" y="391.6" width="3.6" height="3.6" fill="#62a062" stroke="#2a7a30" stroke-width="0.9"/>
<line x1="369" y1="396.1" x2="377.8" y2="396.1" stroke="#2a7a30" stroke-width="0.9" />
<rect x="369.3" y="398.2" width="3.6" height="3.6" fill="#62a062" stroke="#2a7a30" stroke-width="0.9"/>
<rect x="371.6" y="398.2" width="3.6" height="3.6" fill="#62a062" stroke="#2a7a30" stroke-width="0.9"/>
<rect x="373.8" y="398.2" width="3.6" height="3.6" fill="#62a062" stroke="#2a7a30" stroke-width="0.9"/>
<path d="M348 358 L348 353 L374 353 L374 388" fill="none" stroke="#111" stroke-width="1"/>
<text x="360.8" y="351.9" font-size="15.8" font-weight="bold" text-anchor="middle" fill="#111">****</text>
<text x="436.2" y="250.5" font-size="15.8" font-weight="bold" text-anchor="start" fill="#111" >e</text>
<text x="470.6" y="263" font-size="13.1" font-weight="bold" text-anchor="start" fill="#111" >TCWT (0°C)</text>
<line x1="480" y1="311.4" x2="480" y2="400.4" stroke="#111" stroke-width="1" />
<line x1="479.6" y1="400.1" x2="540" y2="400.1" stroke="#111" stroke-width="1" />
<line x1="476.4" y1="400.2" x2="480" y2="400.2" stroke="#111" stroke-width="1" />
<text x="473.2" y="403.7" font-size="11" font-weight="bold" text-anchor="end" fill="#111" >0</text>
<line x1="476.4" y1="378.09999999999997" x2="480" y2="378.09999999999997" stroke="#111" stroke-width="1" />
<text x="473.2" y="381.59999999999997" font-size="11" font-weight="bold" text-anchor="end" fill="#111" >1</text>
<line x1="476.4" y1="356.0" x2="480" y2="356.0" stroke="#111" stroke-width="1" />
<text x="473.2" y="359.5" font-size="11" font-weight="bold" text-anchor="end" fill="#111" >2</text>
<line x1="476.4" y1="333.9" x2="480" y2="333.9" stroke="#111" stroke-width="1" />
<text x="473.2" y="337.4" font-size="11" font-weight="bold" text-anchor="end" fill="#111" >3</text>
<line x1="476.4" y1="311.79999999999995" x2="480" y2="311.79999999999995" stroke="#111" stroke-width="1" />
<text x="473.2" y="315.29999999999995" font-size="11" font-weight="bold" text-anchor="end" fill="#111" >4</text>
<text transform="translate(451.7,355.6) rotate(-90)" font-size="12.2" font-weight="bold" text-anchor="middle" fill="#111" >Average</text>
<text x="509.5" y="303.6" font-size="11.2" font-weight="bold" text-anchor="middle" fill="#111" >ns</text>
<path d="M496.8 314 L496.8 308.4 L522.3 308.4 L522.3 321.3" fill="none" stroke="#111" stroke-width="1"/>
<line x1="489" y1="334.4" x2="505" y2="334.4" stroke="#111" stroke-width="1" />
<line x1="496.8" y1="334.4" x2="496.8" y2="338.3" stroke="#111" stroke-width="0.9" />
<line x1="492.7" y1="338.3" x2="501.4" y2="338.3" stroke="#111" stroke-width="0.9" />
<circle cx="496.8" cy="319.5" r="1.35" fill="#fff" stroke="#111" stroke-width="0.85"/>
<circle cx="490.2" cy="333.9" r="1.35" fill="#fff" stroke="#111" stroke-width="0.85"/>
<circle cx="493.6" cy="333.9" r="1.35" fill="#fff" stroke="#111" stroke-width="0.85"/>
<circle cx="497.0" cy="333.9" r="1.35" fill="#fff" stroke="#111" stroke-width="0.85"/>
<circle cx="500.4" cy="333.9" r="1.35" fill="#fff" stroke="#111" stroke-width="0.85"/>
<circle cx="503.8" cy="333.9" r="1.35" fill="#fff" stroke="#111" stroke-width="0.85"/>
<circle cx="494.9" cy="341.4" r="1.35" fill="#fff" stroke="#111" stroke-width="0.85"/>
<circle cx="498.7" cy="341.4" r="1.35" fill="#fff" stroke="#111" stroke-width="0.85"/>
<circle cx="496.8" cy="348.7" r="1.35" fill="#fff" stroke="#111" stroke-width="0.85"/>
<rect x="521.0" y="325.2" width="2.6" height="2.6" fill="#62a062" stroke="#2a7a30" stroke-width="0.8"/>
<rect x="515.5" y="332.6" width="2.6" height="2.6" fill="#62a062" stroke="#2a7a30" stroke-width="0.8"/>
<rect x="521.0" y="332.6" width="2.6" height="2.6" fill="#62a062" stroke="#2a7a30" stroke-width="0.8"/>
<rect x="526.2" y="332.6" width="2.6" height="2.6" fill="#62a062" stroke="#2a7a30" stroke-width="0.8"/>
<rect x="515.5" y="340.1" width="2.6" height="2.6" fill="#62a062" stroke="#2a7a30" stroke-width="0.8"/>
<rect x="521.0" y="340.1" width="2.6" height="2.6" fill="#62a062" stroke="#2a7a30" stroke-width="0.8"/>
<rect x="526.2" y="340.1" width="2.6" height="2.6" fill="#62a062" stroke="#2a7a30" stroke-width="0.8"/>
<rect x="518.2" y="354.6" width="2.6" height="2.6" fill="#62a062" stroke="#2a7a30" stroke-width="0.8"/>
<rect x="523.7" y="354.6" width="2.6" height="2.6" fill="#62a062" stroke="#2a7a30" stroke-width="0.8"/>
<line x1="513" y1="340.7" x2="531" y2="340.7" stroke="#2a7a30" stroke-width="1" />
<line x1="522.3" y1="337.4" x2="522.3" y2="344.3" stroke="#2a7a30" stroke-width="0.9" />
<line x1="517.9" y1="337.4" x2="526.7" y2="337.4" stroke="#2a7a30" stroke-width="0.9" />
<line x1="517.9" y1="344.3" x2="526.7" y2="344.3" stroke="#2a7a30" stroke-width="0.9" />
</svg>
</body></html>
